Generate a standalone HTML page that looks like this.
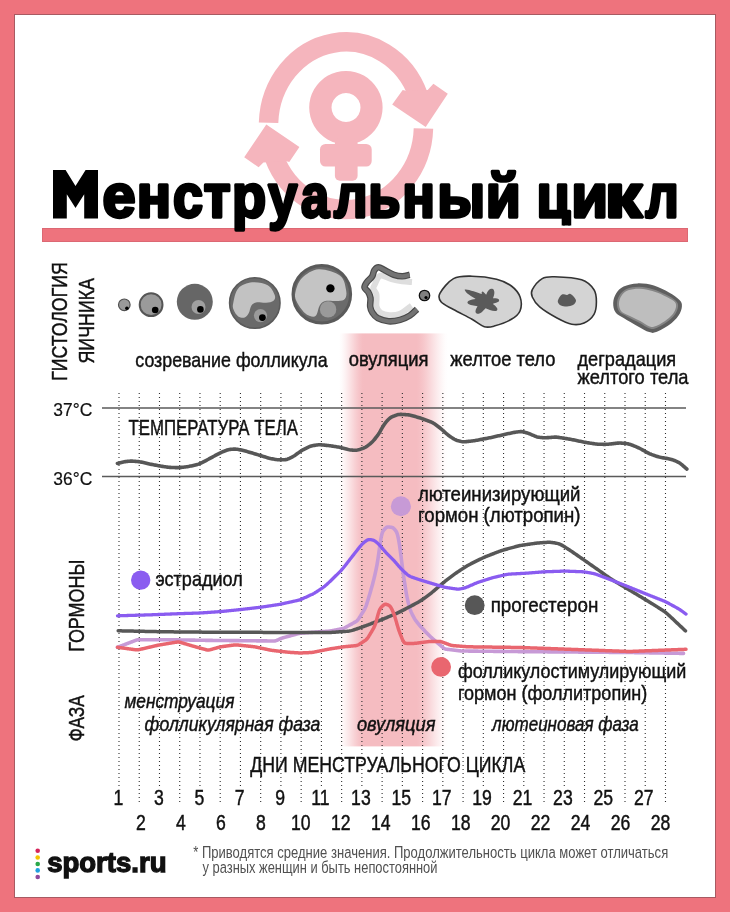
<!DOCTYPE html>
<html><head><meta charset="utf-8"><style>
html,body{margin:0;padding:0;background:#ee737d;}
svg{display:block;will-change:transform;font-family:"Liberation Sans",sans-serif;}
</style></head><body>
<svg width="730" height="912" viewBox="0 0 730 912">
<rect x="0" y="0" width="730" height="912" fill="#ee737d"/>
<rect x="14.5" y="14.5" width="701" height="883" fill="#fff" stroke="#a85a62" stroke-width="1"/>
<g fill="none" stroke="#f5b5bd" stroke-width="19.5">
<path d="M268.55,122.78 A77.5,83.8 0 0 1 418.35,95.67"/>
<path d="M423.46,128.48 A77.5,83.8 0 0 1 274.14,157.09"/>
</g>
<g fill="#f5b5bd">
<polygon points="392.2,104.4 402.7,90 407,91 427.7,90 433.4,83.8 447.8,93.8 425.7,126.9"/>
<polygon points="266.3,124.4 299.4,147.1 289.3,162 285.5,161 263.4,162.5 258.6,167.3 244.2,157.2"/>
<path fill-rule="evenodd" d="M345.9,70.9 a36.7,36.7 0 1 0 0.01,0 Z M346,93 a14.5,14.5 0 1 0 0.01,0 Z"/>
<rect x="334.9" y="138" width="22.7" height="42.8" rx="5"/>
<rect x="320" y="144" width="51.7" height="22.6" rx="5.5"/>
</g>
<rect x="42.5" y="228.5" width="645" height="13" fill="#ee737d" stroke="#dc6873" stroke-width="1"/>
<g font-family="Liberation Sans, sans-serif">
<defs><clipPath id="cc"><rect x="530" y="150" width="50" height="75.5"/></clipPath></defs>
<polygon fill="#000" points="53,170 65.6,170 75.5,186.1 85.6,170 98,170 98,218.5 84.2,218.5 84.2,194.2 75.5,208 66.8,194.2 66.8,218.5 53,218.5"/>
<text transform="translate(102.48,216.90) scale(0.9769,1)" font-size="61.0" font-weight="700" fill="#000" stroke="#000" stroke-width="3.30" stroke-linejoin="round" >е</text>
<text transform="translate(136.67,216.90) scale(0.9328,1)" font-size="61.0" font-weight="700" fill="#000" stroke="#000" stroke-width="3.30" stroke-linejoin="round" >н</text>
<text transform="translate(172.95,216.90) scale(0.8834,1)" font-size="61.0" font-weight="700" fill="#000" stroke="#000" stroke-width="3.30" stroke-linejoin="round" >с</text>
<text transform="translate(203.73,216.90) scale(0.8975,1)" font-size="61.0" font-weight="700" fill="#000" stroke="#000" stroke-width="3.30" stroke-linejoin="round" >т</text>
<text transform="translate(231.93,216.90) scale(0.9166,1)" font-size="61.0" font-weight="700" fill="#000" stroke="#000" stroke-width="3.30" stroke-linejoin="round" >р</text>
<text transform="translate(268.31,216.90) scale(0.8566,1)" font-size="61.0" font-weight="700" fill="#000" stroke="#000" stroke-width="3.30" stroke-linejoin="round" >у</text>
<text transform="translate(301.09,216.90) scale(0.8290,1)" font-size="61.0" font-weight="700" fill="#000" stroke="#000" stroke-width="3.30" stroke-linejoin="round" >а</text>
<text transform="translate(333.99,216.90) scale(0.8664,1)" font-size="61.0" font-weight="700" fill="#000" stroke="#000" stroke-width="3.30" stroke-linejoin="round" >л</text>
<text transform="translate(368.26,216.90) scale(0.8586,1)" font-size="61.0" font-weight="700" fill="#000" stroke="#000" stroke-width="3.30" stroke-linejoin="round" >ь</text>
<text transform="translate(402.18,216.90) scale(0.8885,1)" font-size="61.0" font-weight="700" fill="#000" stroke="#000" stroke-width="3.30" stroke-linejoin="round" >н</text>
<text transform="translate(437.20,216.90) scale(0.9195,1)" font-size="61.0" font-weight="700" fill="#000" stroke="#000" stroke-width="3.30" stroke-linejoin="round" >ы</text>
<text transform="translate(485.79,216.90) scale(0.9338,1)" font-size="61.0" font-weight="700" fill="#000" stroke="#000" stroke-width="3.30" stroke-linejoin="round" >й</text>
<g clip-path="url(#cc)"><text transform="translate(536.45,216.90) scale(0.9006,1)" font-size="61.0" font-weight="700" fill="#000" stroke="#000" stroke-width="3.30" stroke-linejoin="round" >ц</text></g>
<text transform="translate(571.26,216.90) scale(0.9833,1)" font-size="61.0" font-weight="700" fill="#000" stroke="#000" stroke-width="3.30" stroke-linejoin="round" >и</text>
<text transform="translate(604.65,216.90) scale(1.2217,1)" font-size="61.0" font-weight="700" fill="#000" stroke="#000" stroke-width="3.30" stroke-linejoin="round" >к</text>
<text transform="translate(645.38,216.90) scale(0.8583,1)" font-size="61.0" font-weight="700" fill="#000" stroke="#000" stroke-width="3.30" stroke-linejoin="round" >л</text>
</g>
<defs><linearGradient id="bg" x1="339" x2="448" y1="0" y2="0" gradientUnits="userSpaceOnUse"><stop offset="0.0000" stop-color="#f5bcc1" stop-opacity="0.000"/><stop offset="0.0238" stop-color="#f5bcc1" stop-opacity="0.056"/><stop offset="0.0476" stop-color="#f5bcc1" stop-opacity="0.152"/><stop offset="0.0714" stop-color="#f5bcc1" stop-opacity="0.269"/><stop offset="0.0952" stop-color="#f5bcc1" stop-opacity="0.401"/><stop offset="0.1190" stop-color="#f5bcc1" stop-opacity="0.539"/><stop offset="0.1429" stop-color="#f5bcc1" stop-opacity="0.674"/><stop offset="0.1667" stop-color="#f5bcc1" stop-opacity="0.799"/><stop offset="0.1905" stop-color="#f5bcc1" stop-opacity="0.905"/><stop offset="0.2143" stop-color="#f5bcc1" stop-opacity="0.985"/><stop offset="0.2381" stop-color="#f5bcc1" stop-opacity="1.000"/><stop offset="0.2619" stop-color="#f5bcc1" stop-opacity="1.000"/><stop offset="0.2857" stop-color="#f5bcc1" stop-opacity="1.000"/><stop offset="0.3095" stop-color="#f5bcc1" stop-opacity="1.000"/><stop offset="0.3333" stop-color="#f5bcc1" stop-opacity="1.000"/><stop offset="0.3571" stop-color="#f5bcc1" stop-opacity="1.000"/><stop offset="0.3810" stop-color="#f5bcc1" stop-opacity="1.000"/><stop offset="0.4048" stop-color="#f5bcc1" stop-opacity="1.000"/><stop offset="0.4286" stop-color="#f5bcc1" stop-opacity="1.000"/><stop offset="0.4524" stop-color="#f5bcc1" stop-opacity="1.000"/><stop offset="0.4762" stop-color="#f5bcc1" stop-opacity="1.000"/><stop offset="0.5000" stop-color="#f5bcc1" stop-opacity="1.000"/><stop offset="0.5238" stop-color="#f5bcc1" stop-opacity="1.000"/><stop offset="0.5476" stop-color="#f5bcc1" stop-opacity="1.000"/><stop offset="0.5714" stop-color="#f5bcc1" stop-opacity="1.000"/><stop offset="0.5952" stop-color="#f5bcc1" stop-opacity="1.000"/><stop offset="0.6190" stop-color="#f5bcc1" stop-opacity="1.000"/><stop offset="0.6429" stop-color="#f5bcc1" stop-opacity="1.000"/><stop offset="0.6667" stop-color="#f5bcc1" stop-opacity="1.000"/><stop offset="0.6905" stop-color="#f5bcc1" stop-opacity="1.000"/><stop offset="0.7143" stop-color="#f5bcc1" stop-opacity="1.000"/><stop offset="0.7381" stop-color="#f5bcc1" stop-opacity="0.950"/><stop offset="0.7619" stop-color="#f5bcc1" stop-opacity="0.878"/><stop offset="0.7857" stop-color="#f5bcc1" stop-opacity="0.792"/><stop offset="0.8095" stop-color="#f5bcc1" stop-opacity="0.694"/><stop offset="0.8333" stop-color="#f5bcc1" stop-opacity="0.590"/><stop offset="0.8571" stop-color="#f5bcc1" stop-opacity="0.482"/><stop offset="0.8810" stop-color="#f5bcc1" stop-opacity="0.375"/><stop offset="0.9048" stop-color="#f5bcc1" stop-opacity="0.272"/><stop offset="0.9286" stop-color="#f5bcc1" stop-opacity="0.178"/><stop offset="0.9524" stop-color="#f5bcc1" stop-opacity="0.096"/><stop offset="0.9762" stop-color="#f5bcc1" stop-opacity="0.031"/><stop offset="1.0000" stop-color="#f5bcc1" stop-opacity="0.000"/></linearGradient></defs>
<rect x="339" y="333.4" width="109" height="413" fill="url(#bg)"/>
<g>
<circle cx="124.3" cy="304.8" r="5.8" fill="#9a9a9a" stroke="#505050" stroke-width="1.2"/>
<circle cx="126.9" cy="308.2" r="1.8" fill="#000"/>
<circle cx="151.1" cy="304.7" r="11.4" fill="#9a9a9a" stroke="#555" stroke-width="2"/>
<circle cx="155.2" cy="310" r="3.3" fill="#000"/>
<circle cx="194.8" cy="301.8" r="18" fill="#666"/>
<circle cx="198.5" cy="307" r="7" fill="#a0a0a0"/>
<circle cx="200.4" cy="309.4" r="3.3" fill="#000"/>
<circle cx="254.8" cy="303" r="25.2" fill="#6a6a6a" stroke="#5a5a5a" stroke-width="1.6"/>
<path d="M233.20,303.20 C233.97,299.63 235.05,291.88 238.20,288.40 C241.35,284.92 247.18,282.83 252.10,282.30 C257.02,281.77 263.93,283.08 267.70,285.20 C271.47,287.32 273.73,292.40 274.70,295.00 C275.67,297.60 274.93,299.50 273.50,300.80 C272.07,302.10 268.98,302.53 266.10,302.80 C263.22,303.07 258.67,301.92 256.20,302.40 C253.73,302.88 252.53,303.92 251.30,305.70 C250.07,307.48 249.90,311.12 248.80,313.10 C247.70,315.08 246.47,317.05 244.70,317.60 C242.93,318.15 240.05,317.70 238.20,316.40 C236.35,315.10 234.43,312.00 233.60,309.80 C232.77,307.60 232.43,306.77 233.20,303.20Z" fill="#c2c2c2"/>
<circle cx="260.5" cy="315.6" r="6.6" fill="#9a9a9a"/>
<circle cx="262.4" cy="317.6" r="3.4" fill="#000"/>
<circle cx="321.8" cy="294.2" r="28.8" fill="#6b6b6b" stroke="#5a5a5a" stroke-width="3"/>
<path d="M295.50,291.70 C296.43,287.87 298.13,281.73 302.00,278.00 C305.87,274.27 312.33,269.67 318.70,269.30 C325.07,268.93 335.62,272.23 340.20,275.80 C344.78,279.37 345.43,286.82 346.20,290.70 C346.97,294.58 346.12,297.38 344.80,299.10 C343.48,300.82 341.55,300.68 338.30,301.00 C335.05,301.32 328.40,300.23 325.30,301.00 C322.20,301.77 321.10,303.43 319.70,305.60 C318.30,307.77 317.98,312.13 316.90,314.00 C315.82,315.87 315.22,316.95 313.20,316.80 C311.18,316.65 307.60,315.73 304.80,313.10 C302.00,310.47 297.95,304.57 296.40,301.00 C294.85,297.43 294.57,295.53 295.50,291.70Z" fill="#c4c4c4"/>
<circle cx="328.1" cy="309.4" r="8.2" fill="#9a9a9a"/>
<circle cx="330.4" cy="288.4" r="4.2" fill="#000"/>
<path d="M412.00,282.00 C410.37,281.87 405.60,281.70 402.20,281.20 C398.80,280.70 394.98,279.95 391.60,279.00 C388.22,278.05 384.15,275.75 381.90,275.50 C379.65,275.25 379.23,276.10 378.10,277.50 C376.97,278.90 375.90,282.08 375.10,283.90 C374.30,285.72 373.12,286.77 373.30,288.40 C373.48,290.03 375.65,292.07 376.20,293.70 C376.75,295.33 376.55,296.05 376.60,298.20 C376.65,300.35 375.85,304.17 376.50,306.60 C377.15,309.03 378.35,311.37 380.50,312.80 C382.65,314.23 386.13,315.05 389.40,315.20 C392.67,315.35 396.40,315.28 400.10,313.70 C403.80,312.12 409.68,307.03 411.60,305.70" fill="none" stroke="#dedede" stroke-width="6" stroke-linejoin="round" stroke-linecap="butt"/>
<path d="M409.70,274.80 C408.45,275.05 404.83,276.30 402.20,276.30 C399.57,276.30 396.78,275.80 393.90,274.80 C391.02,273.80 387.47,271.55 384.90,270.30 C382.33,269.05 380.27,267.30 378.50,267.30 C376.73,267.30 375.37,268.77 374.30,270.30 C373.23,271.83 373.35,274.50 372.10,276.50 C370.85,278.50 368.07,280.45 366.80,282.30 C365.53,284.15 364.25,285.97 364.50,287.60 C364.75,289.23 367.30,290.37 368.30,292.10 C369.30,293.83 370.18,295.58 370.50,298.00 C370.82,300.42 369.87,304.13 370.20,306.60 C370.53,309.07 371.23,310.87 372.50,312.80 C373.77,314.73 375.13,316.78 377.80,318.20 C380.47,319.62 384.78,321.02 388.50,321.30 C392.22,321.58 396.53,320.87 400.10,319.90 C403.67,318.93 407.08,317.28 409.90,315.50 C412.72,313.72 415.82,310.25 417.00,309.20" fill="none" stroke="#4a4a4a" stroke-width="6.6" stroke-linejoin="round"/>
<path d="M409.70,274.80 C408.45,275.05 404.83,276.30 402.20,276.30 C399.57,276.30 396.78,275.80 393.90,274.80 C391.02,273.80 387.47,271.55 384.90,270.30 C382.33,269.05 380.27,267.30 378.50,267.30 C376.73,267.30 375.37,268.77 374.30,270.30 C373.23,271.83 373.35,274.50 372.10,276.50 C370.85,278.50 368.07,280.45 366.80,282.30 C365.53,284.15 364.25,285.97 364.50,287.60 C364.75,289.23 367.30,290.37 368.30,292.10 C369.30,293.83 370.18,295.58 370.50,298.00 C370.82,300.42 369.87,304.13 370.20,306.60 C370.53,309.07 371.23,310.87 372.50,312.80 C373.77,314.73 375.13,316.78 377.80,318.20 C380.47,319.62 384.78,321.02 388.50,321.30 C392.22,321.58 396.53,320.87 400.10,319.90 C403.67,318.93 407.08,317.28 409.90,315.50 C412.72,313.72 415.82,310.25 417.00,309.20" fill="none" stroke="#737373" stroke-width="4.2" stroke-linejoin="round"/>
<circle cx="424.5" cy="295.5" r="5.2" fill="#808080" stroke="#111" stroke-width="1.3"/>
<circle cx="426" cy="297.5" r="1.6" fill="#000"/>
<path d="M439.90,293.40 C441.95,289.48 448.15,281.47 453.50,278.60 C458.85,275.73 464.82,276.10 472.00,276.20 C479.18,276.30 490.03,277.57 496.60,279.20 C503.17,280.83 507.48,283.02 511.40,286.00 C515.32,288.98 518.65,292.98 520.10,297.10 C521.55,301.22 521.55,307.00 520.10,310.70 C518.65,314.40 515.72,316.73 511.40,319.30 C507.08,321.87 498.72,324.87 494.20,326.10 C489.68,327.33 488.00,327.83 484.30,326.70 C480.60,325.57 477.13,322.17 472.00,319.30 C466.87,316.43 458.63,312.37 453.50,309.50 C448.37,306.63 443.47,304.78 441.20,302.10 C438.93,299.42 437.85,297.32 439.90,293.40Z" fill="#d4d4d4" stroke="#333" stroke-width="1.6"/>
<path d="M240,160 C260,150 340,185 380,195 C375,175 385,170 395,180 L415,200 C430,160 450,145 470,155 C490,170 480,210 470,230 C500,225 525,230 520,250 C515,265 480,270 470,275 C490,290 520,315 500,330 C480,340 430,320 410,310 C390,330 370,360 340,355 C320,345 330,320 345,295 C320,290 280,285 265,270 C255,250 290,240 330,235 C300,215 250,190 240,160 Z" fill="#5a5a5a" transform="translate(435,270) scale(0.12329)"/>
<path d="M532.30,289.70 C533.95,286.63 538.50,280.75 542.20,278.60 C545.90,276.45 547.93,276.60 554.50,276.80 C561.07,277.00 575.02,277.65 581.60,279.80 C588.18,281.95 591.53,286.00 594.00,289.70 C596.47,293.40 596.40,297.90 596.40,302.00 C596.40,306.10 596.05,310.82 594.00,314.30 C591.95,317.78 587.80,321.25 584.10,322.90 C580.40,324.55 576.32,325.02 571.80,324.20 C567.28,323.38 562.35,320.88 557.00,318.00 C551.65,315.12 543.82,310.40 539.70,306.90 C535.58,303.40 533.53,299.87 532.30,297.00 C531.07,294.13 530.65,292.77 532.30,289.70Z" fill="#d4d4d4" stroke="#333" stroke-width="1.6"/>
<path d="M558.50,299.00 C559.17,297.67 560.58,295.17 562.00,294.50 C563.42,293.83 565.67,295.12 567.00,295.00 C568.33,294.88 568.83,293.47 570.00,293.80 C571.17,294.13 573.00,295.80 574.00,297.00 C575.00,298.20 576.17,299.67 576.00,301.00 C575.83,302.33 574.50,304.08 573.00,305.00 C571.50,305.92 569.00,306.42 567.00,306.50 C565.00,306.58 562.50,306.17 561.00,305.50 C559.50,304.83 558.42,303.58 558.00,302.50 C557.58,301.42 557.83,300.33 558.50,299.00Z" fill="#5a5a5a"/>
<path d="M613.20,302.90 C613.30,299.78 614.37,296.32 616.10,293.60 C617.83,290.88 620.02,288.30 623.60,286.60 C627.18,284.90 632.55,283.58 637.60,283.40 C642.65,283.22 648.67,283.98 653.90,285.50 C659.13,287.02 664.73,290.08 669.00,292.50 C673.27,294.92 677.35,297.68 679.50,300.00 C681.65,302.32 682.08,303.77 681.90,306.40 C681.72,309.03 680.55,312.68 678.40,315.80 C676.25,318.92 672.70,322.38 669.00,325.10 C665.30,327.82 659.50,330.93 656.20,332.10 C652.90,333.27 652.30,333.08 649.20,332.10 C646.10,331.12 641.87,328.53 637.60,326.20 C633.33,323.87 627.28,320.42 623.60,318.10 C619.92,315.78 617.23,314.83 615.50,312.30 C613.77,309.77 613.10,306.02 613.20,302.90Z" fill="#5f5f5f"/>
<path d="M616.99,303.24 C617.05,300.47 618.04,297.36 619.64,294.98 C621.24,292.60 623.32,290.32 626.57,288.96 C629.83,287.61 634.81,286.82 639.19,286.85 C643.57,286.88 648.41,287.87 652.85,289.15 C657.28,290.44 661.98,292.63 665.80,294.55 C669.62,296.48 673.72,298.74 675.77,300.71 C677.82,302.68 678.26,304.03 678.10,306.36 C677.94,308.68 676.77,311.94 674.78,314.63 C672.80,317.33 669.48,320.24 666.19,322.54 C662.90,324.85 657.92,327.51 655.06,328.47 C652.20,329.43 651.65,329.25 649.03,328.30 C646.41,327.36 643.01,324.80 639.34,322.82 C635.67,320.84 630.36,318.29 627.00,316.41 C623.65,314.54 620.90,313.77 619.23,311.58 C617.56,309.38 616.92,306.00 616.99,303.24Z" fill="#858585"/>
<path d="M618.98,303.41 C619.03,300.83 619.98,297.90 621.51,295.70 C623.03,293.50 625.05,291.38 628.14,290.21 C631.23,289.04 636.00,288.52 640.02,288.67 C644.05,288.81 648.28,289.91 652.30,291.07 C656.31,292.24 660.54,293.97 664.12,295.64 C667.71,297.30 671.81,299.30 673.80,301.09 C675.80,302.87 676.25,304.18 676.10,306.33 C675.95,308.49 674.78,311.54 672.88,314.02 C670.98,316.50 667.78,319.11 664.71,321.20 C661.64,323.29 657.09,325.72 654.46,326.57 C651.83,327.42 651.30,327.23 648.93,326.31 C646.57,325.39 643.61,322.84 640.25,321.04 C636.90,319.25 631.97,317.16 628.80,315.52 C625.62,313.88 622.83,313.21 621.19,311.20 C619.56,309.18 618.93,306.00 618.98,303.41Z" fill="#bebebe"/>
</g>
<g stroke="#2e2e2e" stroke-width="1.1" stroke-dasharray="1.1 2.9">
<line x1="119.00" y1="393" x2="119.00" y2="786.5"/>
<line x1="139.24" y1="393" x2="139.24" y2="802.0"/>
<line x1="159.48" y1="393" x2="159.48" y2="786.5"/>
<line x1="179.72" y1="393" x2="179.72" y2="802.0"/>
<line x1="199.96" y1="393" x2="199.96" y2="786.5"/>
<line x1="220.20" y1="393" x2="220.20" y2="802.0"/>
<line x1="240.44" y1="393" x2="240.44" y2="786.5"/>
<line x1="260.68" y1="393" x2="260.68" y2="802.0"/>
<line x1="280.92" y1="393" x2="280.92" y2="786.5"/>
<line x1="301.16" y1="393" x2="301.16" y2="802.0"/>
<line x1="321.40" y1="393" x2="321.40" y2="786.5"/>
<line x1="341.64" y1="393" x2="341.64" y2="802.0"/>
<line x1="361.88" y1="393" x2="361.88" y2="786.5"/>
<line x1="382.12" y1="393" x2="382.12" y2="802.0"/>
<line x1="402.36" y1="393" x2="402.36" y2="786.5"/>
<line x1="422.60" y1="393" x2="422.60" y2="802.0"/>
<line x1="442.84" y1="393" x2="442.84" y2="786.5"/>
<line x1="463.08" y1="393" x2="463.08" y2="802.0"/>
<line x1="483.32" y1="393" x2="483.32" y2="786.5"/>
<line x1="503.56" y1="393" x2="503.56" y2="802.0"/>
<line x1="523.80" y1="393" x2="523.80" y2="786.5"/>
<line x1="544.04" y1="393" x2="544.04" y2="802.0"/>
<line x1="564.28" y1="393" x2="564.28" y2="786.5"/>
<line x1="584.52" y1="393" x2="584.52" y2="802.0"/>
<line x1="604.76" y1="393" x2="604.76" y2="786.5"/>
<line x1="625.00" y1="393" x2="625.00" y2="802.0"/>
<line x1="645.24" y1="393" x2="645.24" y2="786.5"/>
<line x1="665.48" y1="393" x2="665.48" y2="802.0"/>
</g>
<line x1="102" y1="408" x2="686" y2="408" stroke="#5a5a5a" stroke-width="1.5"/>
<line x1="102" y1="476.5" x2="686" y2="476.5" stroke="#5a5a5a" stroke-width="1.5"/>
<g fill="none" stroke-linecap="round" stroke-linejoin="round">
<path d="M117.4,463.40 L118.4,463.16 L119.4,462.91 L120.4,462.67 L121.4,462.43 L122.4,462.20 L123.4,461.98 L124.4,461.78 L125.4,461.63 L126.4,461.50 L127.4,461.40 L128.4,461.31 L129.4,461.24 L130.4,461.17 L131.4,461.14 L132.4,461.14 L133.4,461.18 L134.4,461.25 L135.4,461.34 L136.4,461.44 L137.4,461.55 L138.4,461.66 L139.4,461.78 L140.4,461.93 L141.4,462.11 L142.4,462.31 L143.4,462.54 L144.4,462.77 L145.4,463.01 L146.4,463.25 L147.4,463.49 L148.4,463.72 L149.4,463.94 L150.4,464.16 L151.4,464.36 L152.4,464.56 L153.4,464.76 L154.4,464.95 L155.4,465.14 L156.4,465.34 L157.4,465.53 L158.4,465.71 L159.4,465.89 L160.4,466.05 L161.4,466.21 L162.4,466.37 L163.4,466.52 L164.4,466.67 L165.4,466.82 L166.4,466.97 L167.4,467.11 L168.4,467.23 L169.4,467.33 L170.4,467.40 L171.4,467.46 L172.4,467.49 L173.4,467.53 L174.4,467.56 L175.4,467.59 L176.4,467.61 L177.4,467.62 L178.4,467.61 L179.4,467.57 L180.4,467.50 L181.4,467.40 L182.4,467.28 L183.4,467.17 L184.4,467.04 L185.4,466.92 L186.4,466.79 L187.4,466.66 L188.4,466.50 L189.4,466.32 L190.4,466.11 L191.4,465.88 L192.4,465.64 L193.4,465.40 L194.4,465.15 L195.4,464.90 L196.4,464.65 L197.4,464.39 L198.4,464.11 L199.4,463.78 L200.4,463.39 L201.4,462.93 L202.4,462.44 L203.4,461.91 L204.4,461.38 L205.4,460.84 L206.4,460.30 L207.4,459.77 L208.4,459.23 L209.4,458.69 L210.4,458.15 L211.4,457.61 L212.4,457.06 L213.4,456.52 L214.4,455.97 L215.4,455.43 L216.4,454.88 L217.4,454.34 L218.4,453.81 L219.4,453.29 L220.4,452.80 L221.4,452.34 L222.4,451.91 L223.4,451.50 L224.4,451.09 L225.4,450.70 L226.4,450.32 L227.4,449.98 L228.4,449.70 L229.4,449.49 L230.4,449.35 L231.4,449.27 L232.4,449.20 L233.4,449.16 L234.4,449.13 L235.4,449.15 L236.4,449.21 L237.4,449.33 L238.4,449.49 L239.4,449.68 L240.4,449.88 L241.4,450.08 L242.4,450.31 L243.4,450.55 L244.4,450.80 L245.4,451.07 L246.4,451.34 L247.4,451.62 L248.4,451.90 L249.4,452.18 L250.4,452.47 L251.4,452.77 L252.4,453.07 L253.4,453.37 L254.4,453.68 L255.4,453.98 L256.4,454.29 L257.4,454.60 L258.4,454.90 L259.4,455.21 L260.4,455.52 L261.4,455.83 L262.4,456.15 L263.4,456.46 L264.4,456.77 L265.4,457.08 L266.4,457.39 L267.4,457.70 L268.4,457.99 L269.4,458.25 L270.4,458.49 L271.4,458.69 L272.4,458.88 L273.4,459.06 L274.4,459.23 L275.4,459.40 L276.4,459.56 L277.4,459.68 L278.4,459.77 L279.4,459.82 L280.4,459.83 L281.4,459.82 L282.4,459.80 L283.4,459.77 L284.4,459.72 L285.4,459.63 L286.4,459.45 L287.4,459.18 L288.4,458.81 L289.4,458.37 L290.4,457.89 L291.4,457.39 L292.4,456.86 L293.4,456.30 L294.4,455.69 L295.4,455.02 L296.4,454.31 L297.4,453.57 L298.4,452.83 L299.4,452.09 L300.4,451.38 L301.4,450.71 L302.4,450.11 L303.4,449.55 L304.4,449.03 L305.4,448.53 L306.4,448.03 L307.4,447.55 L308.4,447.08 L309.4,446.66 L310.4,446.30 L311.4,446.00 L312.4,445.77 L313.4,445.57 L314.4,445.39 L315.4,445.22 L316.4,445.05 L317.4,444.92 L318.4,444.82 L319.4,444.79 L320.4,444.81 L321.4,444.87 L322.4,444.95 L323.4,445.05 L324.4,445.15 L325.4,445.25 L326.4,445.35 L327.4,445.45 L328.4,445.56 L329.4,445.68 L330.4,445.81 L331.4,445.96 L332.4,446.11 L333.4,446.27 L334.4,446.43 L335.4,446.59 L336.4,446.75 L337.4,446.92 L338.4,447.09 L339.4,447.26 L340.4,447.46 L341.4,447.69 L342.4,447.94 L343.4,448.21 L344.4,448.49 L345.4,448.78 L346.4,449.06 L347.4,449.34 L348.4,449.59 L349.4,449.79 L350.4,449.95 L351.4,450.06 L352.4,450.14 L353.4,450.20 L354.4,450.24 L355.4,450.24 L356.4,450.19 L357.4,450.06 L358.4,449.84 L359.4,449.56 L360.4,449.25 L361.4,448.91 L362.4,448.57 L363.4,448.19 L364.4,447.77 L365.4,447.26 L366.4,446.65 L367.4,445.94 L368.4,445.17 L369.4,444.36 L370.4,443.51 L371.4,442.63 L372.4,441.68 L373.4,440.63 L374.4,439.49 L375.4,438.26 L376.4,436.98 L377.4,435.63 L378.4,434.20 L379.4,432.64 L380.4,430.97 L381.4,429.21 L382.4,427.44 L383.4,425.76 L384.4,424.23 L385.4,422.87 L386.4,421.65 L387.4,420.53 L388.4,419.49 L389.4,418.55 L390.4,417.76 L391.4,417.12 L392.4,416.62 L393.4,416.21 L394.4,415.83 L395.4,415.47 L396.4,415.13 L397.4,414.83 L398.4,414.59 L399.4,414.44 L400.4,414.38 L401.4,414.39 L402.4,414.43 L403.4,414.49 L404.4,414.55 L405.4,414.61 L406.4,414.68 L407.4,414.76 L408.4,414.85 L409.4,414.99 L410.4,415.17 L411.4,415.40 L412.4,415.67 L413.4,415.96 L414.4,416.25 L415.4,416.55 L416.4,416.86 L417.4,417.16 L418.4,417.46 L419.4,417.76 L420.4,418.07 L421.4,418.39 L422.4,418.73 L423.4,419.09 L424.4,419.46 L425.4,419.84 L426.4,420.23 L427.4,420.61 L428.4,421.00 L429.4,421.39 L430.4,421.79 L431.4,422.21 L432.4,422.68 L433.4,423.21 L434.4,423.82 L435.4,424.50 L436.4,425.22 L437.4,425.95 L438.4,426.71 L439.4,427.48 L440.4,428.28 L441.4,429.12 L442.4,429.99 L443.4,430.89 L444.4,431.80 L445.4,432.71 L446.4,433.60 L447.4,434.45 L448.4,435.25 L449.4,436.00 L450.4,436.70 L451.4,437.38 L452.4,438.03 L453.4,438.67 L454.4,439.25 L455.4,439.76 L456.4,440.19 L457.4,440.53 L458.4,440.83 L459.4,441.09 L460.4,441.33 L461.4,441.54 L462.4,441.69 L463.4,441.77 L464.4,441.76 L465.4,441.71 L466.4,441.62 L467.4,441.51 L468.4,441.41 L469.4,441.30 L470.4,441.19 L471.4,441.08 L472.4,440.96 L473.4,440.83 L474.4,440.68 L475.4,440.51 L476.4,440.33 L477.4,440.15 L478.4,439.96 L479.4,439.77 L480.4,439.58 L481.4,439.38 L482.4,439.19 L483.4,439.00 L484.4,438.81 L485.4,438.62 L486.4,438.43 L487.4,438.24 L488.4,438.05 L489.4,437.85 L490.4,437.66 L491.4,437.46 L492.4,437.25 L493.4,437.03 L494.4,436.80 L495.4,436.57 L496.4,436.34 L497.4,436.11 L498.4,435.87 L499.4,435.64 L500.4,435.41 L501.4,435.17 L502.4,434.94 L503.4,434.71 L504.4,434.48 L505.4,434.26 L506.4,434.04 L507.4,433.82 L508.4,433.61 L509.4,433.39 L510.4,433.18 L511.4,432.97 L512.4,432.76 L513.4,432.56 L514.4,432.37 L515.4,432.21 L516.4,432.05 L517.4,431.91 L518.4,431.78 L519.4,431.67 L520.4,431.59 L521.4,431.59 L522.4,431.68 L523.4,431.86 L524.4,432.11 L525.4,432.40 L526.4,432.71 L527.4,433.03 L528.4,433.37 L529.4,433.75 L530.4,434.15 L531.4,434.58 L532.4,435.03 L533.4,435.48 L534.4,435.91 L535.4,436.32 L536.4,436.67 L537.4,436.94 L538.4,437.15 L539.4,437.31 L540.4,437.44 L541.4,437.56 L542.4,437.66 L543.4,437.73 L544.4,437.77 L545.4,437.76 L546.4,437.72 L547.4,437.65 L548.4,437.58 L549.4,437.51 L550.4,437.44 L551.4,437.37 L552.4,437.29 L553.4,437.23 L554.4,437.17 L555.4,437.15 L556.4,437.17 L557.4,437.24 L558.4,437.36 L559.4,437.50 L560.4,437.66 L561.4,437.82 L562.4,437.98 L563.4,438.14 L564.4,438.31 L565.4,438.47 L566.4,438.64 L567.4,438.80 L568.4,438.96 L569.4,439.13 L570.4,439.30 L571.4,439.47 L572.4,439.66 L573.4,439.86 L574.4,440.06 L575.4,440.28 L576.4,440.49 L577.4,440.71 L578.4,440.93 L579.4,441.15 L580.4,441.36 L581.4,441.58 L582.4,441.79 L583.4,442.00 L584.4,442.20 L585.4,442.38 L586.4,442.55 L587.4,442.71 L588.4,442.87 L589.4,443.03 L590.4,443.18 L591.4,443.33 L592.4,443.49 L593.4,443.64 L594.4,443.79 L595.4,443.93 L596.4,444.05 L597.4,444.14 L598.4,444.20 L599.4,444.24 L600.4,444.27 L601.4,444.29 L602.4,444.31 L603.4,444.33 L604.4,444.34 L605.4,444.34 L606.4,444.32 L607.4,444.26 L608.4,444.18 L609.4,444.08 L610.4,443.96 L611.4,443.84 L612.4,443.72 L613.4,443.60 L614.4,443.48 L615.4,443.36 L616.4,443.25 L617.4,443.15 L618.4,443.08 L619.4,443.05 L620.4,443.07 L621.4,443.12 L622.4,443.20 L623.4,443.29 L624.4,443.38 L625.4,443.47 L626.4,443.58 L627.4,443.71 L628.4,443.89 L629.4,444.14 L630.4,444.45 L631.4,444.82 L632.4,445.21 L633.4,445.62 L634.4,446.04 L635.4,446.45 L636.4,446.87 L637.4,447.31 L638.4,447.76 L639.4,448.24 L640.4,448.75 L641.4,449.28 L642.4,449.83 L643.4,450.37 L644.4,450.92 L645.4,451.47 L646.4,452.02 L647.4,452.56 L648.4,453.08 L649.4,453.58 L650.4,454.03 L651.4,454.44 L652.4,454.82 L653.4,455.18 L654.4,455.53 L655.4,455.88 L656.4,456.22 L657.4,456.54 L658.4,456.84 L659.4,457.10 L660.4,457.32 L661.4,457.51 L662.4,457.69 L663.4,457.87 L664.4,458.04 L665.4,458.21 L666.4,458.38 L667.4,458.55 L668.4,458.73 L669.4,458.93 L670.4,459.16 L671.4,459.43 L672.4,459.76 L673.4,460.12 L674.4,460.52 L675.4,460.93 L676.4,461.34 L677.4,461.79 L678.4,462.29 L679.4,462.87 L680.4,463.56 L681.4,464.34 L682.4,465.17 L683.4,466.04 L684.4,466.91 L685.4,467.79 L686.4,468.67 L686.9,469.11" stroke="#575757" stroke-width="3.6"/>
<path d="M117.5,647.30 L118.0,647.11 L118.5,646.92 L119.0,646.73 L119.5,646.54 L120.0,646.35 L120.5,646.15 L121.0,645.96 L121.5,645.77 L122.0,645.58 L122.5,645.39 L123.0,645.20 L123.5,645.01 L124.0,644.82 L124.5,644.63 L125.0,644.44 L125.5,644.24 L126.0,644.05 L126.5,643.86 L127.0,643.67 L127.5,643.48 L128.0,643.29 L128.5,643.10 L129.0,642.91 L129.5,642.72 L130.0,642.53 L130.5,642.34 L131.0,642.14 L131.5,641.95 L132.0,641.76 L132.5,641.57 L133.0,641.38 L133.5,641.19 L134.0,641.00 L134.5,640.81 L135.0,640.62 L135.5,640.43 L136.0,640.25 L136.5,640.08 L137.0,639.94 L137.5,639.83 L138.0,639.76 L138.5,639.73 L139.0,639.71 L139.5,639.70 L140.0,639.70 L140.5,639.70 L141.0,639.70 L141.5,639.70 L142.0,639.70 L142.5,639.70 L143.0,639.70 L143.5,639.70 L144.0,639.70 L144.5,639.70 L145.0,639.70 L145.5,639.70 L146.0,639.70 L146.5,639.70 L147.0,639.70 L147.5,639.70 L148.0,639.70 L148.5,639.70 L149.0,639.70 L149.5,639.70 L150.0,639.70 L150.5,639.70 L151.0,639.70 L151.5,639.70 L152.0,639.70 L152.5,639.70 L153.0,639.70 L153.5,639.70 L154.0,639.70 L154.5,639.70 L155.0,639.70 L155.5,639.70 L156.0,639.70 L156.5,639.70 L157.0,639.70 L157.5,639.70 L158.0,639.70 L158.5,639.70 L159.0,639.70 L159.5,639.70 L160.0,639.70 L160.5,639.70 L161.0,639.70 L161.5,639.70 L162.0,639.70 L162.5,639.70 L163.0,639.70 L163.5,639.70 L164.0,639.70 L164.5,639.70 L165.0,639.71 L165.5,639.71 L166.0,639.72 L166.5,639.73 L167.0,639.73 L167.5,639.74 L168.0,639.75 L168.5,639.76 L169.0,639.77 L169.5,639.77 L170.0,639.78 L170.5,639.79 L171.0,639.80 L171.5,639.80 L172.0,639.81 L172.5,639.82 L173.0,639.83 L173.5,639.83 L174.0,639.84 L174.5,639.85 L175.0,639.86 L175.5,639.87 L176.0,639.87 L176.5,639.88 L177.0,639.89 L177.5,639.90 L178.0,639.90 L178.5,639.91 L179.0,639.92 L179.5,639.93 L180.0,639.94 L180.5,639.94 L181.0,639.95 L181.5,639.96 L182.0,639.97 L182.5,639.97 L183.0,639.98 L183.5,639.99 L184.0,640.00 L184.5,640.01 L185.0,640.01 L185.5,640.02 L186.0,640.03 L186.5,640.04 L187.0,640.04 L187.5,640.05 L188.0,640.06 L188.5,640.07 L189.0,640.07 L189.5,640.08 L190.0,640.09 L190.5,640.10 L191.0,640.11 L191.5,640.11 L192.0,640.12 L192.5,640.13 L193.0,640.14 L193.5,640.14 L194.0,640.15 L194.5,640.16 L195.0,640.17 L195.5,640.18 L196.0,640.18 L196.5,640.19 L197.0,640.20 L197.5,640.21 L198.0,640.21 L198.5,640.22 L199.0,640.23 L199.5,640.24 L200.0,640.25 L200.5,640.25 L201.0,640.26 L201.5,640.27 L202.0,640.28 L202.5,640.28 L203.0,640.29 L203.5,640.30 L204.0,640.31 L204.5,640.31 L205.0,640.32 L205.5,640.33 L206.0,640.34 L206.5,640.35 L207.0,640.35 L207.5,640.36 L208.0,640.37 L208.5,640.38 L209.0,640.38 L209.5,640.39 L210.0,640.40 L210.5,640.40 L211.0,640.41 L211.5,640.41 L212.0,640.42 L212.5,640.42 L213.0,640.43 L213.5,640.43 L214.0,640.44 L214.5,640.44 L215.0,640.45 L215.5,640.45 L216.0,640.46 L216.5,640.46 L217.0,640.46 L217.5,640.47 L218.0,640.47 L218.5,640.48 L219.0,640.48 L219.5,640.49 L220.0,640.49 L220.5,640.50 L221.0,640.50 L221.5,640.51 L222.0,640.51 L222.5,640.51 L223.0,640.52 L223.5,640.52 L224.0,640.53 L224.5,640.53 L225.0,640.54 L225.5,640.54 L226.0,640.55 L226.5,640.55 L227.0,640.56 L227.5,640.56 L228.0,640.57 L228.5,640.57 L229.0,640.57 L229.5,640.58 L230.0,640.58 L230.5,640.59 L231.0,640.59 L231.5,640.60 L232.0,640.60 L232.5,640.61 L233.0,640.61 L233.5,640.62 L234.0,640.62 L234.5,640.63 L235.0,640.63 L235.5,640.63 L236.0,640.64 L236.5,640.64 L237.0,640.65 L237.5,640.65 L238.0,640.66 L238.5,640.66 L239.0,640.67 L239.5,640.67 L240.0,640.68 L240.5,640.68 L241.0,640.68 L241.5,640.69 L242.0,640.69 L242.5,640.70 L243.0,640.70 L243.5,640.71 L244.0,640.71 L244.5,640.72 L245.0,640.72 L245.5,640.73 L246.0,640.73 L246.5,640.74 L247.0,640.74 L247.5,640.74 L248.0,640.75 L248.5,640.75 L249.0,640.76 L249.5,640.76 L250.0,640.77 L250.5,640.77 L251.0,640.78 L251.5,640.78 L252.0,640.79 L252.5,640.79 L253.0,640.80 L253.5,640.80 L254.0,640.80 L254.5,640.81 L255.0,640.81 L255.5,640.82 L256.0,640.82 L256.5,640.83 L257.0,640.83 L257.5,640.84 L258.0,640.84 L258.5,640.85 L259.0,640.85 L259.5,640.85 L260.0,640.86 L260.5,640.86 L261.0,640.87 L261.5,640.87 L262.0,640.88 L262.5,640.88 L263.0,640.89 L263.5,640.89 L264.0,640.90 L264.5,640.90 L265.0,640.91 L265.5,640.91 L266.0,640.91 L266.5,640.92 L267.0,640.92 L267.5,640.93 L268.0,640.93 L268.5,640.94 L269.0,640.94 L269.5,640.95 L270.0,640.95 L270.5,640.96 L271.0,640.96 L271.5,640.97 L272.0,640.97 L272.5,640.97 L273.0,640.98 L273.5,640.98 L274.0,640.97 L274.5,640.94 L275.0,640.88 L275.5,640.78 L276.0,640.63 L276.5,640.45 L277.0,640.25 L277.5,640.04 L278.0,639.83 L278.5,639.61 L279.0,639.39 L279.5,639.17 L280.0,638.96 L280.5,638.74 L281.0,638.53 L281.5,638.33 L282.0,638.14 L282.5,637.96 L283.0,637.80 L283.5,637.66 L284.0,637.52 L284.5,637.38 L285.0,637.25 L285.5,637.11 L286.0,636.98 L286.5,636.84 L287.0,636.71 L287.5,636.57 L288.0,636.44 L288.5,636.30 L289.0,636.17 L289.5,636.03 L290.0,635.90 L290.5,635.76 L291.0,635.63 L291.5,635.49 L292.0,635.36 L292.5,635.22 L293.0,635.09 L293.5,634.95 L294.0,634.82 L294.5,634.68 L295.0,634.55 L295.5,634.41 L296.0,634.28 L296.5,634.14 L297.0,634.01 L297.5,633.87 L298.0,633.74 L298.5,633.61 L299.0,633.49 L299.5,633.37 L300.0,633.28 L300.5,633.20 L301.0,633.15 L301.5,633.10 L302.0,633.06 L302.5,633.03 L303.0,632.99 L303.5,632.96 L304.0,632.92 L304.5,632.89 L305.0,632.85 L305.5,632.82 L306.0,632.78 L306.5,632.75 L307.0,632.71 L307.5,632.68 L308.0,632.64 L308.5,632.61 L309.0,632.57 L309.5,632.54 L310.0,632.50 L310.5,632.47 L311.0,632.43 L311.5,632.40 L312.0,632.36 L312.5,632.33 L313.0,632.29 L313.5,632.26 L314.0,632.22 L314.5,632.19 L315.0,632.15 L315.5,632.12 L316.0,632.08 L316.5,632.05 L317.0,632.01 L317.5,631.98 L318.0,631.94 L318.5,631.91 L319.0,631.87 L319.5,631.84 L320.0,631.80 L320.5,631.77 L321.0,631.73 L321.5,631.70 L322.0,631.66 L322.5,631.63 L323.0,631.59 L323.5,631.56 L324.0,631.52 L324.5,631.49 L325.0,631.45 L325.5,631.42 L326.0,631.38 L326.5,631.34 L327.0,631.31 L327.5,631.27 L328.0,631.24 L328.5,631.20 L329.0,631.16 L329.5,631.11 L330.0,631.05 L330.5,630.98 L331.0,630.89 L331.5,630.80 L332.0,630.70 L332.5,630.61 L333.0,630.51 L333.5,630.41 L334.0,630.31 L334.5,630.21 L335.0,630.11 L335.5,630.02 L336.0,629.92 L336.5,629.82 L337.0,629.72 L337.5,629.62 L338.0,629.52 L338.5,629.42 L339.0,629.33 L339.5,629.23 L340.0,629.13 L340.5,629.03 L341.0,628.93 L341.5,628.83 L342.0,628.73 L342.5,628.62 L343.0,628.49 L343.5,628.33 L344.0,628.14 L344.5,627.91 L345.0,627.66 L345.5,627.40 L346.0,627.12 L346.5,626.85 L347.0,626.57 L347.5,626.29 L348.0,626.01 L348.5,625.74 L349.0,625.46 L349.5,625.18 L350.0,624.91 L350.5,624.63 L351.0,624.35 L351.5,624.07 L352.0,623.80 L352.5,623.52 L353.0,623.24 L353.5,622.96 L354.0,622.69 L354.5,622.41 L355.0,622.13 L355.5,621.84 L356.0,621.54 L356.5,621.20 L357.0,620.78 L357.5,620.28 L358.0,619.67 L358.5,618.98 L359.0,618.24 L359.5,617.46 L360.0,616.68 L360.5,615.89 L361.0,615.09 L361.5,614.30 L362.0,613.51 L362.5,612.71 L363.0,611.92 L363.5,611.12 L364.0,610.30 L364.5,609.43 L365.0,608.46 L365.5,607.36 L366.0,606.09 L366.5,604.67 L367.0,603.14 L367.5,601.54 L368.0,599.91 L368.5,598.26 L369.0,596.60 L369.5,594.91 L370.0,593.21 L370.5,591.48 L371.0,589.74 L371.5,587.99 L372.0,586.22 L372.5,584.42 L373.0,582.56 L373.5,580.62 L374.0,578.59 L374.5,576.47 L375.0,574.29 L375.5,572.07 L376.0,569.78 L376.5,567.38 L377.0,564.79 L377.5,561.91 L378.0,558.72 L378.5,555.27 L379.0,551.67 L379.5,548.05 L380.0,544.53 L380.5,541.23 L381.0,538.25 L381.5,535.73 L382.0,533.74 L382.5,532.29 L383.0,531.26 L383.5,530.49 L384.0,529.86 L384.5,529.28 L385.0,528.73 L385.5,528.22 L386.0,527.76 L386.5,527.40 L387.0,527.15 L387.5,527.02 L388.0,526.98 L388.5,526.99 L389.0,527.03 L389.5,527.07 L390.0,527.12 L390.5,527.17 L391.0,527.23 L391.5,527.30 L392.0,527.42 L392.5,527.60 L393.0,527.88 L393.5,528.26 L394.0,528.73 L394.5,529.25 L395.0,529.82 L395.5,530.43 L396.0,531.15 L396.5,532.05 L397.0,533.25 L397.5,534.83 L398.0,536.80 L398.5,539.14 L399.0,541.84 L399.5,544.91 L400.0,548.37 L400.5,552.16 L401.0,556.14 L401.5,560.16 L402.0,564.11 L402.5,567.95 L403.0,571.66 L403.5,575.27 L404.0,578.75 L404.5,582.11 L405.0,585.35 L405.5,588.49 L406.0,591.51 L406.5,594.36 L407.0,596.99 L407.5,599.36 L408.0,601.50 L408.5,603.48 L409.0,605.36 L409.5,607.13 L410.0,608.79 L410.5,610.29 L411.0,611.62 L411.5,612.79 L412.0,613.85 L412.5,614.85 L413.0,615.82 L413.5,616.77 L414.0,617.69 L414.5,618.58 L415.0,619.40 L415.5,620.15 L416.0,620.86 L416.5,621.52 L417.0,622.17 L417.5,622.81 L418.0,623.45 L418.5,624.08 L419.0,624.71 L419.5,625.31 L420.0,625.90 L420.5,626.47 L421.0,627.01 L421.5,627.53 L422.0,628.05 L422.5,628.57 L423.0,629.08 L423.5,629.60 L424.0,630.11 L424.5,630.62 L425.0,631.14 L425.5,631.65 L426.0,632.16 L426.5,632.68 L427.0,633.19 L427.5,633.70 L428.0,634.22 L428.5,634.73 L429.0,635.24 L429.5,635.75 L430.0,636.26 L430.5,636.75 L431.0,637.23 L431.5,637.69 L432.0,638.14 L432.5,638.58 L433.0,639.01 L433.5,639.43 L434.0,639.86 L434.5,640.29 L435.0,640.72 L435.5,641.14 L436.0,641.57 L436.5,642.00 L437.0,642.42 L437.5,642.85 L438.0,643.28 L438.5,643.71 L439.0,644.13 L439.5,644.56 L440.0,644.99 L440.5,645.41 L441.0,645.84 L441.5,646.27 L442.0,646.69 L442.5,647.12 L443.0,647.53 L443.5,647.93 L444.0,648.30 L444.5,648.60 L445.0,648.84 L445.5,649.01 L446.0,649.13 L446.5,649.21 L447.0,649.28 L447.5,649.34 L448.0,649.40 L448.5,649.46 L449.0,649.52 L449.5,649.59 L450.0,649.65 L450.5,649.71 L451.0,649.77 L451.5,649.83 L452.0,649.89 L452.5,649.95 L453.0,650.01 L453.5,650.07 L454.0,650.13 L454.5,650.20 L455.0,650.26 L455.5,650.32 L456.0,650.38 L456.5,650.44 L457.0,650.50 L457.5,650.56 L458.0,650.62 L458.5,650.68 L459.0,650.74 L459.5,650.80 L460.0,650.86 L460.5,650.91 L461.0,650.95 L461.5,650.98 L462.0,651.00 L462.5,651.01 L463.0,651.02 L463.5,651.02 L464.0,651.03 L464.5,651.03 L465.0,651.04 L465.5,651.04 L466.0,651.05 L466.5,651.06 L467.0,651.06 L467.5,651.07 L468.0,651.07 L468.5,651.08 L469.0,651.08 L469.5,651.09 L470.0,651.09 L470.5,651.10 L471.0,651.10 L471.5,651.11 L472.0,651.11 L472.5,651.12 L473.0,651.12 L473.5,651.13 L474.0,651.13 L474.5,651.14 L475.0,651.14 L475.5,651.15 L476.0,651.15 L476.5,651.16 L477.0,651.16 L477.5,651.17 L478.0,651.17 L478.5,651.18 L479.0,651.18 L479.5,651.19 L480.0,651.19 L480.5,651.20 L481.0,651.20 L481.5,651.21 L482.0,651.21 L482.5,651.22 L483.0,651.22 L483.5,651.23 L484.0,651.23 L484.5,651.24 L485.0,651.24 L485.5,651.25 L486.0,651.25 L486.5,651.26 L487.0,651.26 L487.5,651.27 L488.0,651.27 L488.5,651.28 L489.0,651.28 L489.5,651.29 L490.0,651.29 L490.5,651.30 L491.0,651.30 L491.5,651.31 L492.0,651.31 L492.5,651.32 L493.0,651.32 L493.5,651.33 L494.0,651.34 L494.5,651.34 L495.0,651.35 L495.5,651.35 L496.0,651.36 L496.5,651.36 L497.0,651.37 L497.5,651.37 L498.0,651.38 L498.5,651.38 L499.0,651.39 L499.5,651.39 L500.0,651.40 L500.5,651.40 L501.0,651.41 L501.5,651.41 L502.0,651.42 L502.5,651.42 L503.0,651.43 L503.5,651.43 L504.0,651.44 L504.5,651.44 L505.0,651.45 L505.5,651.45 L506.0,651.46 L506.5,651.46 L507.0,651.47 L507.5,651.47 L508.0,651.48 L508.5,651.48 L509.0,651.49 L509.5,651.49 L510.0,651.50 L510.5,651.50 L511.0,651.51 L511.5,651.51 L512.0,651.52 L512.5,651.52 L513.0,651.53 L513.5,651.53 L514.0,651.54 L514.5,651.54 L515.0,651.55 L515.5,651.55 L516.0,651.56 L516.5,651.56 L517.0,651.57 L517.5,651.57 L518.0,651.58 L518.5,651.58 L519.0,651.59 L519.5,651.59 L520.0,651.60 L520.5,651.60 L521.0,651.61 L521.5,651.61 L522.0,651.62 L522.5,651.62 L523.0,651.62 L523.5,651.63 L524.0,651.63 L524.5,651.64 L525.0,651.64 L525.5,651.65 L526.0,651.65 L526.5,651.65 L527.0,651.66 L527.5,651.66 L528.0,651.67 L528.5,651.67 L529.0,651.67 L529.5,651.68 L530.0,651.68 L530.5,651.69 L531.0,651.69 L531.5,651.69 L532.0,651.70 L532.5,651.70 L533.0,651.71 L533.5,651.71 L534.0,651.71 L534.5,651.72 L535.0,651.72 L535.5,651.73 L536.0,651.73 L536.5,651.74 L537.0,651.74 L537.5,651.74 L538.0,651.75 L538.5,651.75 L539.0,651.76 L539.5,651.76 L540.0,651.76 L540.5,651.77 L541.0,651.77 L541.5,651.78 L542.0,651.78 L542.5,651.78 L543.0,651.79 L543.5,651.79 L544.0,651.80 L544.5,651.80 L545.0,651.80 L545.5,651.81 L546.0,651.81 L546.5,651.82 L547.0,651.82 L547.5,651.83 L548.0,651.83 L548.5,651.83 L549.0,651.84 L549.5,651.84 L550.0,651.85 L550.5,651.85 L551.0,651.85 L551.5,651.86 L552.0,651.86 L552.5,651.87 L553.0,651.87 L553.5,651.87 L554.0,651.88 L554.5,651.88 L555.0,651.89 L555.5,651.89 L556.0,651.89 L556.5,651.90 L557.0,651.90 L557.5,651.91 L558.0,651.91 L558.5,651.92 L559.0,651.92 L559.5,651.92 L560.0,651.93 L560.5,651.93 L561.0,651.94 L561.5,651.94 L562.0,651.94 L562.5,651.95 L563.0,651.95 L563.5,651.96 L564.0,651.96 L564.5,651.96 L565.0,651.97 L565.5,651.97 L566.0,651.98 L566.5,651.98 L567.0,651.98 L567.5,651.99 L568.0,651.99 L568.5,652.00 L569.0,652.00 L569.5,652.01 L570.0,652.01 L570.5,652.01 L571.0,652.02 L571.5,652.02 L572.0,652.03 L572.5,652.03 L573.0,652.03 L573.5,652.04 L574.0,652.04 L574.5,652.05 L575.0,652.05 L575.5,652.05 L576.0,652.06 L576.5,652.06 L577.0,652.07 L577.5,652.07 L578.0,652.07 L578.5,652.08 L579.0,652.08 L579.5,652.09 L580.0,652.09 L580.5,652.10 L581.0,652.10 L581.5,652.10 L582.0,652.11 L582.5,652.11 L583.0,652.12 L583.5,652.12 L584.0,652.12 L584.5,652.13 L585.0,652.13 L585.5,652.14 L586.0,652.14 L586.5,652.14 L587.0,652.15 L587.5,652.15 L588.0,652.16 L588.5,652.16 L589.0,652.16 L589.5,652.17 L590.0,652.17 L590.5,652.18 L591.0,652.18 L591.5,652.19 L592.0,652.19 L592.5,652.19 L593.0,652.20 L593.5,652.20 L594.0,652.21 L594.5,652.21 L595.0,652.21 L595.5,652.22 L596.0,652.22 L596.5,652.23 L597.0,652.23 L597.5,652.23 L598.0,652.24 L598.5,652.24 L599.0,652.25 L599.5,652.25 L600.0,652.25 L600.5,652.26 L601.0,652.26 L601.5,652.27 L602.0,652.27 L602.5,652.28 L603.0,652.28 L603.5,652.28 L604.0,652.29 L604.5,652.29 L605.0,652.30 L605.5,652.30 L606.0,652.30 L606.5,652.31 L607.0,652.31 L607.5,652.32 L608.0,652.32 L608.5,652.32 L609.0,652.33 L609.5,652.33 L610.0,652.34 L610.5,652.34 L611.0,652.34 L611.5,652.35 L612.0,652.35 L612.5,652.36 L613.0,652.36 L613.5,652.37 L614.0,652.37 L614.5,652.37 L615.0,652.38 L615.5,652.38 L616.0,652.39 L616.5,652.39 L617.0,652.39 L617.5,652.40 L618.0,652.40 L618.5,652.41 L619.0,652.41 L619.5,652.41 L620.0,652.42 L620.5,652.42 L621.0,652.43 L621.5,652.43 L622.0,652.43 L622.5,652.44 L623.0,652.44 L623.5,652.45 L624.0,652.45 L624.5,652.46 L625.0,652.46 L625.5,652.46 L626.0,652.47 L626.5,652.47 L627.0,652.48 L627.5,652.48 L628.0,652.48 L628.5,652.49 L629.0,652.49 L629.5,652.50 L630.0,652.50 L630.5,652.51 L631.0,652.52 L631.5,652.53 L632.0,652.53 L632.5,652.54 L633.0,652.55 L633.5,652.56 L634.0,652.57 L634.5,652.58 L635.0,652.58 L635.5,652.59 L636.0,652.60 L636.5,652.61 L637.0,652.62 L637.5,652.63 L638.0,652.63 L638.5,652.64 L639.0,652.65 L639.5,652.66 L640.0,652.67 L640.5,652.68 L641.0,652.68 L641.5,652.69 L642.0,652.70 L642.5,652.71 L643.0,652.72 L643.5,652.73 L644.0,652.74 L644.5,652.74 L645.0,652.75 L645.5,652.76 L646.0,652.77 L646.5,652.78 L647.0,652.79 L647.5,652.79 L648.0,652.80 L648.5,652.81 L649.0,652.82 L649.5,652.83 L650.0,652.84 L650.5,652.84 L651.0,652.85 L651.5,652.86 L652.0,652.87 L652.5,652.88 L653.0,652.89 L653.5,652.89 L654.0,652.90 L654.5,652.91 L655.0,652.92 L655.5,652.93 L656.0,652.94 L656.5,652.94 L657.0,652.95 L657.5,652.96 L658.0,652.97 L658.5,652.98 L659.0,652.99 L659.5,653.00 L660.0,653.00 L660.5,653.01 L661.0,653.02 L661.5,653.03 L662.0,653.04 L662.5,653.05 L663.0,653.05 L663.5,653.06 L664.0,653.07 L664.5,653.08 L665.0,653.09 L665.5,653.10 L666.0,653.10 L666.5,653.11 L667.0,653.12 L667.5,653.13 L668.0,653.14 L668.5,653.15 L669.0,653.15 L669.5,653.16 L670.0,653.17 L670.5,653.18 L671.0,653.19 L671.5,653.20 L672.0,653.21 L672.5,653.21 L673.0,653.22 L673.5,653.23 L674.0,653.24 L674.5,653.25 L675.0,653.26 L675.5,653.26 L676.0,653.27 L676.5,653.28 L677.0,653.29 L677.5,653.30 L678.0,653.31 L678.5,653.31 L679.0,653.32 L679.5,653.33 L680.0,653.34 L680.5,653.35 L681.0,653.36 L681.5,653.36 L682.0,653.37 L682.5,653.38 L683.0,653.39 L683.5,653.40" stroke="#c79ad6" stroke-width="3.6"/>
<path d="M118.2,630.80 L119.2,630.82 L120.2,630.84 L121.2,630.86 L122.2,630.89 L123.2,630.91 L124.2,630.93 L125.2,630.95 L126.2,630.97 L127.2,630.99 L128.2,631.01 L129.2,631.04 L130.2,631.06 L131.2,631.08 L132.2,631.10 L133.2,631.12 L134.2,631.14 L135.2,631.16 L136.2,631.19 L137.2,631.21 L138.2,631.23 L139.2,631.25 L140.2,631.27 L141.2,631.29 L142.2,631.32 L143.2,631.34 L144.2,631.36 L145.2,631.38 L146.2,631.40 L147.2,631.42 L148.2,631.44 L149.2,631.47 L150.2,631.49 L151.2,631.51 L152.2,631.53 L153.2,631.55 L154.2,631.57 L155.2,631.59 L156.2,631.62 L157.2,631.64 L158.2,631.66 L159.2,631.68 L160.2,631.70 L161.2,631.72 L162.2,631.74 L163.2,631.76 L164.2,631.78 L165.2,631.79 L166.2,631.81 L167.2,631.82 L168.2,631.83 L169.2,631.84 L170.2,631.85 L171.2,631.86 L172.2,631.87 L173.2,631.87 L174.2,631.88 L175.2,631.89 L176.2,631.90 L177.2,631.91 L178.2,631.92 L179.2,631.93 L180.2,631.94 L181.2,631.95 L182.2,631.95 L183.2,631.96 L184.2,631.97 L185.2,631.98 L186.2,631.99 L187.2,632.00 L188.2,632.01 L189.2,632.02 L190.2,632.02 L191.2,632.03 L192.2,632.04 L193.2,632.05 L194.2,632.06 L195.2,632.07 L196.2,632.08 L197.2,632.09 L198.2,632.10 L199.2,632.10 L200.2,632.11 L201.2,632.12 L202.2,632.13 L203.2,632.14 L204.2,632.15 L205.2,632.16 L206.2,632.17 L207.2,632.17 L208.2,632.18 L209.2,632.19 L210.2,632.20 L211.2,632.20 L212.2,632.21 L213.2,632.21 L214.2,632.21 L215.2,632.22 L216.2,632.22 L217.2,632.22 L218.2,632.23 L219.2,632.23 L220.2,632.23 L221.2,632.24 L222.2,632.24 L223.2,632.24 L224.2,632.25 L225.2,632.25 L226.2,632.25 L227.2,632.26 L228.2,632.26 L229.2,632.26 L230.2,632.27 L231.2,632.27 L232.2,632.27 L233.2,632.28 L234.2,632.28 L235.2,632.28 L236.2,632.29 L237.2,632.29 L238.2,632.29 L239.2,632.30 L240.2,632.30 L241.2,632.30 L242.2,632.31 L243.2,632.31 L244.2,632.31 L245.2,632.32 L246.2,632.32 L247.2,632.32 L248.2,632.33 L249.2,632.33 L250.2,632.33 L251.2,632.34 L252.2,632.34 L253.2,632.34 L254.2,632.35 L255.2,632.35 L256.2,632.35 L257.2,632.36 L258.2,632.36 L259.2,632.36 L260.2,632.37 L261.2,632.37 L262.2,632.37 L263.2,632.38 L264.2,632.38 L265.2,632.38 L266.2,632.39 L267.2,632.39 L268.2,632.39 L269.2,632.40 L270.2,632.40 L271.2,632.40 L272.2,632.41 L273.2,632.41 L274.2,632.41 L275.2,632.42 L276.2,632.42 L277.2,632.42 L278.2,632.43 L279.2,632.43 L280.2,632.43 L281.2,632.44 L282.2,632.44 L283.2,632.44 L284.2,632.45 L285.2,632.45 L286.2,632.45 L287.2,632.46 L288.2,632.46 L289.2,632.46 L290.2,632.47 L291.2,632.47 L292.2,632.47 L293.2,632.48 L294.2,632.48 L295.2,632.48 L296.2,632.49 L297.2,632.49 L298.2,632.49 L299.2,632.50 L300.2,632.50 L301.2,632.50 L302.2,632.50 L303.2,632.50 L304.2,632.50 L305.2,632.50 L306.2,632.50 L307.2,632.50 L308.2,632.50 L309.2,632.50 L310.2,632.50 L311.2,632.50 L312.2,632.50 L313.2,632.50 L314.2,632.50 L315.2,632.50 L316.2,632.50 L317.2,632.50 L318.2,632.50 L319.2,632.50 L320.2,632.50 L321.2,632.50 L322.2,632.50 L323.2,632.50 L324.2,632.50 L325.2,632.50 L326.2,632.50 L327.2,632.49 L328.2,632.48 L329.2,632.46 L330.2,632.42 L331.2,632.38 L332.2,632.33 L333.2,632.27 L334.2,632.21 L335.2,632.14 L336.2,632.08 L337.2,632.01 L338.2,631.94 L339.2,631.87 L340.2,631.80 L341.2,631.74 L342.2,631.67 L343.2,631.60 L344.2,631.53 L345.2,631.46 L346.2,631.38 L347.2,631.29 L348.2,631.19 L349.2,631.05 L350.2,630.88 L351.2,630.66 L352.2,630.40 L353.2,630.10 L354.2,629.78 L355.2,629.45 L356.2,629.10 L357.2,628.75 L358.2,628.40 L359.2,628.05 L360.2,627.70 L361.2,627.35 L362.2,626.99 L363.2,626.63 L364.2,626.27 L365.2,625.90 L366.2,625.53 L367.2,625.16 L368.2,624.78 L369.2,624.40 L370.2,624.02 L371.2,623.64 L372.2,623.26 L373.2,622.88 L374.2,622.50 L375.2,622.12 L376.2,621.74 L377.2,621.36 L378.2,620.98 L379.2,620.60 L380.2,620.21 L381.2,619.82 L382.2,619.42 L383.2,619.02 L384.2,618.61 L385.2,618.19 L386.2,617.77 L387.2,617.35 L388.2,616.93 L389.2,616.51 L390.2,616.09 L391.2,615.67 L392.2,615.25 L393.2,614.83 L394.2,614.40 L395.2,613.98 L396.2,613.54 L397.2,613.10 L398.2,612.64 L399.2,612.16 L400.2,611.67 L401.2,611.16 L402.2,610.65 L403.2,610.13 L404.2,609.60 L405.2,609.08 L406.2,608.55 L407.2,608.03 L408.2,607.50 L409.2,606.98 L410.2,606.45 L411.2,605.93 L412.2,605.40 L413.2,604.87 L414.2,604.35 L415.2,603.82 L416.2,603.28 L417.2,602.74 L418.2,602.18 L419.2,601.60 L420.2,600.98 L421.2,600.34 L422.2,599.67 L423.2,598.98 L424.2,598.27 L425.2,597.56 L426.2,596.84 L427.2,596.12 L428.2,595.38 L429.2,594.64 L430.2,593.87 L431.2,593.08 L432.2,592.26 L433.2,591.42 L434.2,590.56 L435.2,589.69 L436.2,588.82 L437.2,587.94 L438.2,587.07 L439.2,586.20 L440.2,585.33 L441.2,584.49 L442.2,583.65 L443.2,582.83 L444.2,582.03 L445.2,581.24 L446.2,580.45 L447.2,579.67 L448.2,578.88 L449.2,578.11 L450.2,577.33 L451.2,576.56 L452.2,575.80 L453.2,575.06 L454.2,574.33 L455.2,573.63 L456.2,572.94 L457.2,572.27 L458.2,571.61 L459.2,570.95 L460.2,570.30 L461.2,569.65 L462.2,569.00 L463.2,568.36 L464.2,567.72 L465.2,567.08 L466.2,566.46 L467.2,565.86 L468.2,565.28 L469.2,564.73 L470.2,564.19 L471.2,563.68 L472.2,563.17 L473.2,562.67 L474.2,562.17 L475.2,561.67 L476.2,561.18 L477.2,560.68 L478.2,560.18 L479.2,559.69 L480.2,559.19 L481.2,558.70 L482.2,558.22 L483.2,557.75 L484.2,557.30 L485.2,556.87 L486.2,556.45 L487.2,556.05 L488.2,555.66 L489.2,555.27 L490.2,554.89 L491.2,554.50 L492.2,554.12 L493.2,553.74 L494.2,553.36 L495.2,552.97 L496.2,552.59 L497.2,552.21 L498.2,551.83 L499.2,551.46 L500.2,551.10 L501.2,550.75 L502.2,550.41 L503.2,550.09 L504.2,549.79 L505.2,549.51 L506.2,549.23 L507.2,548.95 L508.2,548.68 L509.2,548.41 L510.2,548.14 L511.2,547.87 L512.2,547.60 L513.2,547.33 L514.2,547.07 L515.2,546.80 L516.2,546.53 L517.2,546.28 L518.2,546.03 L519.2,545.80 L520.2,545.58 L521.2,545.39 L522.2,545.22 L523.2,545.06 L524.2,544.90 L525.2,544.76 L526.2,544.61 L527.2,544.47 L528.2,544.32 L529.2,544.18 L530.2,544.03 L531.2,543.89 L532.2,543.75 L533.2,543.61 L534.2,543.47 L535.2,543.33 L536.2,543.21 L537.2,543.09 L538.2,542.99 L539.2,542.90 L540.2,542.81 L541.2,542.73 L542.2,542.66 L543.2,542.59 L544.2,542.52 L545.2,542.45 L546.2,542.39 L547.2,542.34 L548.2,542.31 L549.2,542.31 L550.2,542.35 L551.2,542.43 L552.2,542.54 L553.2,542.67 L554.2,542.83 L555.2,543.00 L556.2,543.19 L557.2,543.40 L558.2,543.66 L559.2,543.98 L560.2,544.37 L561.2,544.84 L562.2,545.37 L563.2,545.96 L564.2,546.58 L565.2,547.22 L566.2,547.87 L567.2,548.53 L568.2,549.19 L569.2,549.84 L570.2,550.50 L571.2,551.17 L572.2,551.83 L573.2,552.51 L574.2,553.19 L575.2,553.87 L576.2,554.56 L577.2,555.25 L578.2,555.95 L579.2,556.65 L580.2,557.35 L581.2,558.04 L582.2,558.74 L583.2,559.44 L584.2,560.14 L585.2,560.84 L586.2,561.53 L587.2,562.23 L588.2,562.93 L589.2,563.63 L590.2,564.33 L591.2,565.03 L592.2,565.73 L593.2,566.43 L594.2,567.13 L595.2,567.83 L596.2,568.53 L597.2,569.23 L598.2,569.94 L599.2,570.64 L600.2,571.34 L601.2,572.05 L602.2,572.75 L603.2,573.45 L604.2,574.16 L605.2,574.86 L606.2,575.56 L607.2,576.26 L608.2,576.96 L609.2,577.65 L610.2,578.33 L611.2,579.00 L612.2,579.66 L613.2,580.29 L614.2,580.91 L615.2,581.53 L616.2,582.13 L617.2,582.73 L618.2,583.33 L619.2,583.93 L620.2,584.53 L621.2,585.13 L622.2,585.73 L623.2,586.33 L624.2,586.93 L625.2,587.53 L626.2,588.13 L627.2,588.72 L628.2,589.32 L629.2,589.92 L630.2,590.52 L631.2,591.12 L632.2,591.72 L633.2,592.32 L634.2,592.92 L635.2,593.52 L636.2,594.11 L637.2,594.71 L638.2,595.31 L639.2,595.91 L640.2,596.51 L641.2,597.11 L642.2,597.71 L643.2,598.31 L644.2,598.91 L645.2,599.51 L646.2,600.11 L647.2,600.71 L648.2,601.31 L649.2,601.92 L650.2,602.53 L651.2,603.14 L652.2,603.76 L653.2,604.39 L654.2,605.01 L655.2,605.64 L656.2,606.26 L657.2,606.89 L658.2,607.52 L659.2,608.15 L660.2,608.78 L661.2,609.42 L662.2,610.06 L663.2,610.73 L664.2,611.43 L665.2,612.18 L666.2,612.97 L667.2,613.81 L668.2,614.69 L669.2,615.60 L670.2,616.53 L671.2,617.46 L672.2,618.40 L673.2,619.34 L674.2,620.28 L675.2,621.22 L676.2,622.16 L677.2,623.10 L678.2,624.04 L679.2,624.98 L680.2,625.92 L681.2,626.86 L682.2,627.80 L683.2,628.74 L684.2,629.68 L685.2,630.62 L685.5,630.86" stroke="#575757" stroke-width="3.5"/>
<path d="M117.5,647.30 L118.0,647.37 L118.5,647.44 L119.0,647.50 L119.5,647.57 L120.0,647.64 L120.5,647.71 L121.0,647.77 L121.5,647.84 L122.0,647.91 L122.5,647.98 L123.0,648.05 L123.5,648.11 L124.0,648.18 L124.5,648.25 L125.0,648.32 L125.5,648.39 L126.0,648.45 L126.5,648.52 L127.0,648.59 L127.5,648.66 L128.0,648.72 L128.5,648.79 L129.0,648.86 L129.5,648.93 L130.0,649.00 L130.5,649.06 L131.0,649.13 L131.5,649.20 L132.0,649.27 L132.5,649.34 L133.0,649.40 L133.5,649.47 L134.0,649.54 L134.5,649.61 L135.0,649.67 L135.5,649.73 L136.0,649.78 L136.5,649.82 L137.0,649.83 L137.5,649.82 L138.0,649.77 L138.5,649.70 L139.0,649.61 L139.5,649.50 L140.0,649.39 L140.5,649.28 L141.0,649.16 L141.5,649.04 L142.0,648.93 L142.5,648.81 L143.0,648.70 L143.5,648.58 L144.0,648.46 L144.5,648.35 L145.0,648.23 L145.5,648.11 L146.0,648.00 L146.5,647.88 L147.0,647.76 L147.5,647.65 L148.0,647.53 L148.5,647.41 L149.0,647.30 L149.5,647.18 L150.0,647.06 L150.5,646.95 L151.0,646.83 L151.5,646.71 L152.0,646.60 L152.5,646.48 L153.0,646.37 L153.5,646.25 L154.0,646.13 L154.5,646.02 L155.0,645.90 L155.5,645.78 L156.0,645.67 L156.5,645.55 L157.0,645.44 L157.5,645.33 L158.0,645.23 L158.5,645.14 L159.0,645.04 L159.5,644.96 L160.0,644.87 L160.5,644.79 L161.0,644.70 L161.5,644.62 L162.0,644.54 L162.5,644.45 L163.0,644.37 L163.5,644.29 L164.0,644.20 L164.5,644.12 L165.0,644.04 L165.5,643.96 L166.0,643.87 L166.5,643.79 L167.0,643.71 L167.5,643.62 L168.0,643.54 L168.5,643.46 L169.0,643.38 L169.5,643.29 L170.0,643.21 L170.5,643.13 L171.0,643.04 L171.5,642.96 L172.0,642.88 L172.5,642.80 L173.0,642.71 L173.5,642.63 L174.0,642.55 L174.5,642.46 L175.0,642.38 L175.5,642.30 L176.0,642.22 L176.5,642.14 L177.0,642.08 L177.5,642.03 L178.0,642.01 L178.5,642.02 L179.0,642.07 L179.5,642.16 L180.0,642.28 L180.5,642.41 L181.0,642.55 L181.5,642.70 L182.0,642.85 L182.5,643.00 L183.0,643.15 L183.5,643.30 L184.0,643.45 L184.5,643.60 L185.0,643.75 L185.5,643.89 L186.0,644.04 L186.5,644.19 L187.0,644.34 L187.5,644.49 L188.0,644.64 L188.5,644.79 L189.0,644.94 L189.5,645.09 L190.0,645.24 L190.5,645.39 L191.0,645.54 L191.5,645.69 L192.0,645.83 L192.5,645.97 L193.0,646.12 L193.5,646.26 L194.0,646.39 L194.5,646.53 L195.0,646.67 L195.5,646.81 L196.0,646.94 L196.5,647.08 L197.0,647.22 L197.5,647.36 L198.0,647.50 L198.5,647.63 L199.0,647.77 L199.5,647.91 L200.0,648.04 L200.5,648.18 L201.0,648.32 L201.5,648.46 L202.0,648.60 L202.5,648.73 L203.0,648.87 L203.5,649.01 L204.0,649.14 L204.5,649.28 L205.0,649.42 L205.5,649.55 L206.0,649.69 L206.5,649.81 L207.0,649.91 L207.5,649.99 L208.0,650.03 L208.5,650.02 L209.0,649.97 L209.5,649.88 L210.0,649.77 L210.5,649.64 L211.0,649.50 L211.5,649.36 L212.0,649.22 L212.5,649.08 L213.0,648.93 L213.5,648.79 L214.0,648.65 L214.5,648.51 L215.0,648.37 L215.5,648.22 L216.0,648.08 L216.5,647.94 L217.0,647.80 L217.5,647.65 L218.0,647.51 L218.5,647.37 L219.0,647.24 L219.5,647.11 L220.0,646.98 L220.5,646.87 L221.0,646.77 L221.5,646.69 L222.0,646.61 L222.5,646.54 L223.0,646.47 L223.5,646.40 L224.0,646.34 L224.5,646.27 L225.0,646.20 L225.5,646.14 L226.0,646.07 L226.5,646.01 L227.0,645.94 L227.5,645.87 L228.0,645.81 L228.5,645.74 L229.0,645.67 L229.5,645.61 L230.0,645.54 L230.5,645.48 L231.0,645.41 L231.5,645.34 L232.0,645.28 L232.5,645.21 L233.0,645.15 L233.5,645.08 L234.0,645.02 L234.5,644.97 L235.0,644.94 L235.5,644.92 L236.0,644.91 L236.5,644.93 L237.0,644.96 L237.5,645.00 L238.0,645.05 L238.5,645.10 L239.0,645.15 L239.5,645.21 L240.0,645.26 L240.5,645.31 L241.0,645.36 L241.5,645.41 L242.0,645.47 L242.5,645.52 L243.0,645.57 L243.5,645.62 L244.0,645.67 L244.5,645.73 L245.0,645.78 L245.5,645.83 L246.0,645.88 L246.5,645.94 L247.0,645.99 L247.5,646.04 L248.0,646.09 L248.5,646.14 L249.0,646.20 L249.5,646.25 L250.0,646.30 L250.5,646.35 L251.0,646.40 L251.5,646.46 L252.0,646.51 L252.5,646.56 L253.0,646.62 L253.5,646.67 L254.0,646.74 L254.5,646.81 L255.0,646.88 L255.5,646.97 L256.0,647.07 L256.5,647.17 L257.0,647.27 L257.5,647.38 L258.0,647.48 L258.5,647.59 L259.0,647.70 L259.5,647.80 L260.0,647.91 L260.5,648.02 L261.0,648.12 L261.5,648.23 L262.0,648.34 L262.5,648.44 L263.0,648.55 L263.5,648.66 L264.0,648.76 L264.5,648.87 L265.0,648.98 L265.5,649.08 L266.0,649.19 L266.5,649.30 L267.0,649.40 L267.5,649.51 L268.0,649.62 L268.5,649.72 L269.0,649.83 L269.5,649.93 L270.0,650.03 L270.5,650.13 L271.0,650.22 L271.5,650.30 L272.0,650.37 L272.5,650.44 L273.0,650.50 L273.5,650.56 L274.0,650.61 L274.5,650.67 L275.0,650.73 L275.5,650.78 L276.0,650.84 L276.5,650.90 L277.0,650.95 L277.5,651.01 L278.0,651.06 L278.5,651.12 L279.0,651.18 L279.5,651.23 L280.0,651.29 L280.5,651.34 L281.0,651.40 L281.5,651.46 L282.0,651.51 L282.5,651.57 L283.0,651.63 L283.5,651.68 L284.0,651.74 L284.5,651.79 L285.0,651.85 L285.5,651.91 L286.0,651.96 L286.5,652.02 L287.0,652.07 L287.5,652.13 L288.0,652.18 L288.5,652.23 L289.0,652.28 L289.5,652.32 L290.0,652.36 L290.5,652.39 L291.0,652.43 L291.5,652.46 L292.0,652.49 L292.5,652.52 L293.0,652.55 L293.5,652.59 L294.0,652.62 L294.5,652.65 L295.0,652.68 L295.5,652.71 L296.0,652.75 L296.5,652.78 L297.0,652.81 L297.5,652.84 L298.0,652.87 L298.5,652.90 L299.0,652.92 L299.5,652.94 L300.0,652.95 L300.5,652.95 L301.0,652.94 L301.5,652.93 L302.0,652.91 L302.5,652.90 L303.0,652.87 L303.5,652.85 L304.0,652.83 L304.5,652.81 L305.0,652.79 L305.5,652.77 L306.0,652.75 L306.5,652.73 L307.0,652.71 L307.5,652.69 L308.0,652.67 L308.5,652.65 L309.0,652.62 L309.5,652.60 L310.0,652.58 L310.5,652.55 L311.0,652.52 L311.5,652.48 L312.0,652.42 L312.5,652.36 L313.0,652.28 L313.5,652.19 L314.0,652.10 L314.5,652.00 L315.0,651.90 L315.5,651.80 L316.0,651.70 L316.5,651.60 L317.0,651.50 L317.5,651.40 L318.0,651.30 L318.5,651.20 L319.0,651.10 L319.5,651.00 L320.0,650.90 L320.5,650.80 L321.0,650.70 L321.5,650.60 L322.0,650.50 L322.5,650.40 L323.0,650.30 L323.5,650.20 L324.0,650.10 L324.5,650.00 L325.0,649.90 L325.5,649.80 L326.0,649.70 L326.5,649.60 L327.0,649.50 L327.5,649.40 L328.0,649.30 L328.5,649.20 L329.0,649.11 L329.5,649.01 L330.0,648.92 L330.5,648.84 L331.0,648.75 L331.5,648.67 L332.0,648.59 L332.5,648.52 L333.0,648.44 L333.5,648.36 L334.0,648.29 L334.5,648.21 L335.0,648.13 L335.5,648.06 L336.0,647.98 L336.5,647.90 L337.0,647.83 L337.5,647.75 L338.0,647.67 L338.5,647.60 L339.0,647.52 L339.5,647.44 L340.0,647.37 L340.5,647.29 L341.0,647.21 L341.5,647.14 L342.0,647.06 L342.5,646.99 L343.0,646.92 L343.5,646.85 L344.0,646.79 L344.5,646.73 L345.0,646.68 L345.5,646.63 L346.0,646.58 L346.5,646.53 L347.0,646.49 L347.5,646.44 L348.0,646.39 L348.5,646.34 L349.0,646.30 L349.5,646.25 L350.0,646.20 L350.5,646.15 L351.0,646.11 L351.5,646.06 L352.0,646.01 L352.5,645.96 L353.0,645.92 L353.5,645.87 L354.0,645.82 L354.5,645.77 L355.0,645.72 L355.5,645.66 L356.0,645.59 L356.5,645.50 L357.0,645.37 L357.5,645.20 L358.0,644.98 L358.5,644.72 L359.0,644.44 L359.5,644.13 L360.0,643.82 L360.5,643.50 L361.0,643.17 L361.5,642.85 L362.0,642.53 L362.5,642.21 L363.0,641.88 L363.5,641.56 L364.0,641.24 L364.5,640.91 L365.0,640.57 L365.5,640.21 L366.0,639.81 L366.5,639.35 L367.0,638.81 L367.5,638.19 L368.0,637.49 L368.5,636.73 L369.0,635.93 L369.5,635.12 L370.0,634.29 L370.5,633.45 L371.0,632.62 L371.5,631.78 L372.0,630.94 L372.5,630.10 L373.0,629.24 L373.5,628.34 L374.0,627.37 L374.5,626.29 L375.0,625.04 L375.5,623.60 L376.0,621.98 L376.5,620.21 L377.0,618.36 L377.5,616.48 L378.0,614.65 L378.5,612.94 L379.0,611.43 L379.5,610.16 L380.0,609.12 L380.5,608.30 L381.0,607.63 L381.5,607.05 L382.0,606.52 L382.5,606.02 L383.0,605.55 L383.5,605.12 L384.0,604.75 L384.5,604.47 L385.0,604.31 L385.5,604.25 L386.0,604.30 L386.5,604.41 L387.0,604.56 L387.5,604.74 L388.0,604.95 L388.5,605.18 L389.0,605.46 L389.5,605.82 L390.0,606.30 L390.5,606.92 L391.0,607.69 L391.5,608.59 L392.0,609.58 L392.5,610.65 L393.0,611.78 L393.5,612.98 L394.0,614.29 L394.5,615.71 L395.0,617.25 L395.5,618.90 L396.0,620.62 L396.5,622.38 L397.0,624.15 L397.5,625.89 L398.0,627.56 L398.5,629.14 L399.0,630.63 L399.5,632.03 L400.0,633.37 L400.5,634.65 L401.0,635.91 L401.5,637.15 L402.0,638.36 L402.5,639.51 L403.0,640.57 L403.5,641.49 L404.0,642.21 L404.5,642.73 L405.0,643.06 L405.5,643.25 L406.0,643.34 L406.5,643.38 L407.0,643.39 L407.5,643.40 L408.0,643.40 L408.5,643.40 L409.0,643.40 L409.5,643.40 L410.0,643.40 L410.5,643.40 L411.0,643.40 L411.5,643.40 L412.0,643.40 L412.5,643.40 L413.0,643.40 L413.5,643.39 L414.0,643.38 L414.5,643.36 L415.0,643.33 L415.5,643.29 L416.0,643.24 L416.5,643.18 L417.0,643.12 L417.5,643.05 L418.0,642.99 L418.5,642.92 L419.0,642.86 L419.5,642.79 L420.0,642.72 L420.5,642.66 L421.0,642.59 L421.5,642.53 L422.0,642.46 L422.5,642.39 L423.0,642.33 L423.5,642.26 L424.0,642.19 L424.5,642.13 L425.0,642.06 L425.5,642.00 L426.0,641.93 L426.5,641.86 L427.0,641.80 L427.5,641.73 L428.0,641.67 L428.5,641.61 L429.0,641.55 L429.5,641.50 L430.0,641.46 L430.5,641.44 L431.0,641.42 L431.5,641.41 L432.0,641.40 L432.5,641.40 L433.0,641.40 L433.5,641.40 L434.0,641.40 L434.5,641.40 L435.0,641.40 L435.5,641.40 L436.0,641.40 L436.5,641.40 L437.0,641.40 L437.5,641.40 L438.0,641.40 L438.5,641.41 L439.0,641.42 L439.5,641.45 L440.0,641.50 L440.5,641.58 L441.0,641.69 L441.5,641.82 L442.0,641.98 L442.5,642.15 L443.0,642.33 L443.5,642.52 L444.0,642.70 L444.5,642.89 L445.0,643.08 L445.5,643.26 L446.0,643.45 L446.5,643.64 L447.0,643.82 L447.5,644.01 L448.0,644.20 L448.5,644.38 L449.0,644.57 L449.5,644.75 L450.0,644.92 L450.5,645.09 L451.0,645.23 L451.5,645.36 L452.0,645.46 L452.5,645.54 L453.0,645.60 L453.5,645.65 L454.0,645.70 L454.5,645.74 L455.0,645.78 L455.5,645.82 L456.0,645.86 L456.5,645.90 L457.0,645.94 L457.5,645.98 L458.0,646.02 L458.5,646.05 L459.0,646.09 L459.5,646.13 L460.0,646.17 L460.5,646.21 L461.0,646.25 L461.5,646.29 L462.0,646.33 L462.5,646.37 L463.0,646.41 L463.5,646.45 L464.0,646.49 L464.5,646.53 L465.0,646.57 L465.5,646.61 L466.0,646.65 L466.5,646.68 L467.0,646.72 L467.5,646.75 L468.0,646.77 L468.5,646.79 L469.0,646.81 L469.5,646.82 L470.0,646.83 L470.5,646.83 L471.0,646.84 L471.5,646.85 L472.0,646.86 L472.5,646.86 L473.0,646.87 L473.5,646.88 L474.0,646.88 L474.5,646.89 L475.0,646.90 L475.5,646.90 L476.0,646.91 L476.5,646.92 L477.0,646.92 L477.5,646.93 L478.0,646.94 L478.5,646.94 L479.0,646.95 L479.5,646.96 L480.0,646.96 L480.5,646.97 L481.0,646.98 L481.5,646.98 L482.0,646.99 L482.5,647.00 L483.0,647.00 L483.5,647.01 L484.0,647.02 L484.5,647.02 L485.0,647.03 L485.5,647.04 L486.0,647.04 L486.5,647.05 L487.0,647.06 L487.5,647.06 L488.0,647.07 L488.5,647.08 L489.0,647.08 L489.5,647.09 L490.0,647.10 L490.5,647.10 L491.0,647.11 L491.5,647.12 L492.0,647.12 L492.5,647.13 L493.0,647.14 L493.5,647.14 L494.0,647.15 L494.5,647.16 L495.0,647.16 L495.5,647.17 L496.0,647.18 L496.5,647.18 L497.0,647.19 L497.5,647.20 L498.0,647.20 L498.5,647.21 L499.0,647.22 L499.5,647.22 L500.0,647.23 L500.5,647.24 L501.0,647.24 L501.5,647.25 L502.0,647.26 L502.5,647.26 L503.0,647.27 L503.5,647.28 L504.0,647.29 L504.5,647.29 L505.0,647.30 L505.5,647.31 L506.0,647.31 L506.5,647.32 L507.0,647.33 L507.5,647.33 L508.0,647.34 L508.5,647.35 L509.0,647.35 L509.5,647.36 L510.0,647.37 L510.5,647.37 L511.0,647.38 L511.5,647.39 L512.0,647.39 L512.5,647.40 L513.0,647.41 L513.5,647.41 L514.0,647.42 L514.5,647.43 L515.0,647.43 L515.5,647.44 L516.0,647.45 L516.5,647.45 L517.0,647.46 L517.5,647.47 L518.0,647.47 L518.5,647.48 L519.0,647.49 L519.5,647.50 L520.0,647.51 L520.5,647.52 L521.0,647.54 L521.5,647.56 L522.0,647.57 L522.5,647.59 L523.0,647.61 L523.5,647.63 L524.0,647.65 L524.5,647.66 L525.0,647.68 L525.5,647.70 L526.0,647.72 L526.5,647.74 L527.0,647.76 L527.5,647.77 L528.0,647.79 L528.5,647.81 L529.0,647.83 L529.5,647.85 L530.0,647.87 L530.5,647.88 L531.0,647.90 L531.5,647.92 L532.0,647.94 L532.5,647.96 L533.0,647.98 L533.5,647.99 L534.0,648.01 L534.5,648.03 L535.0,648.05 L535.5,648.07 L536.0,648.09 L536.5,648.10 L537.0,648.12 L537.5,648.14 L538.0,648.16 L538.5,648.18 L539.0,648.20 L539.5,648.21 L540.0,648.23 L540.5,648.25 L541.0,648.27 L541.5,648.29 L542.0,648.31 L542.5,648.32 L543.0,648.34 L543.5,648.36 L544.0,648.38 L544.5,648.40 L545.0,648.41 L545.5,648.43 L546.0,648.45 L546.5,648.47 L547.0,648.49 L547.5,648.51 L548.0,648.52 L548.5,648.54 L549.0,648.56 L549.5,648.58 L550.0,648.60 L550.5,648.62 L551.0,648.63 L551.5,648.65 L552.0,648.67 L552.5,648.69 L553.0,648.71 L553.5,648.73 L554.0,648.74 L554.5,648.76 L555.0,648.78 L555.5,648.80 L556.0,648.82 L556.5,648.84 L557.0,648.85 L557.5,648.87 L558.0,648.89 L558.5,648.91 L559.0,648.93 L559.5,648.95 L560.0,648.96 L560.5,648.98 L561.0,649.00 L561.5,649.02 L562.0,649.04 L562.5,649.06 L563.0,649.07 L563.5,649.09 L564.0,649.11 L564.5,649.13 L565.0,649.15 L565.5,649.17 L566.0,649.18 L566.5,649.20 L567.0,649.22 L567.5,649.24 L568.0,649.26 L568.5,649.27 L569.0,649.29 L569.5,649.31 L570.0,649.33 L570.5,649.35 L571.0,649.37 L571.5,649.38 L572.0,649.40 L572.5,649.42 L573.0,649.44 L573.5,649.46 L574.0,649.48 L574.5,649.49 L575.0,649.51 L575.5,649.53 L576.0,649.55 L576.5,649.57 L577.0,649.59 L577.5,649.60 L578.0,649.62 L578.5,649.64 L579.0,649.66 L579.5,649.68 L580.0,649.70 L580.5,649.71 L581.0,649.73 L581.5,649.75 L582.0,649.77 L582.5,649.79 L583.0,649.81 L583.5,649.82 L584.0,649.84 L584.5,649.86 L585.0,649.88 L585.5,649.90 L586.0,649.92 L586.5,649.93 L587.0,649.95 L587.5,649.97 L588.0,649.99 L588.5,650.01 L589.0,650.03 L589.5,650.04 L590.0,650.06 L590.5,650.08 L591.0,650.10 L591.5,650.12 L592.0,650.13 L592.5,650.15 L593.0,650.17 L593.5,650.19 L594.0,650.21 L594.5,650.23 L595.0,650.24 L595.5,650.26 L596.0,650.28 L596.5,650.30 L597.0,650.32 L597.5,650.34 L598.0,650.35 L598.5,650.37 L599.0,650.39 L599.5,650.41 L600.0,650.43 L600.5,650.45 L601.0,650.46 L601.5,650.48 L602.0,650.50 L602.5,650.52 L603.0,650.54 L603.5,650.56 L604.0,650.57 L604.5,650.59 L605.0,650.61 L605.5,650.63 L606.0,650.65 L606.5,650.67 L607.0,650.68 L607.5,650.70 L608.0,650.72 L608.5,650.74 L609.0,650.76 L609.5,650.78 L610.0,650.79 L610.5,650.81 L611.0,650.83 L611.5,650.85 L612.0,650.87 L612.5,650.89 L613.0,650.90 L613.5,650.92 L614.0,650.94 L614.5,650.96 L615.0,650.98 L615.5,650.99 L616.0,651.01 L616.5,651.03 L617.0,651.05 L617.5,651.07 L618.0,651.09 L618.5,651.10 L619.0,651.12 L619.5,651.14 L620.0,651.16 L620.5,651.18 L621.0,651.20 L621.5,651.21 L622.0,651.23 L622.5,651.25 L623.0,651.27 L623.5,651.29 L624.0,651.31 L624.5,651.32 L625.0,651.34 L625.5,651.36 L626.0,651.38 L626.5,651.40 L627.0,651.41 L627.5,651.43 L628.0,651.45 L628.5,651.46 L629.0,651.46 L629.5,651.46 L630.0,651.46 L630.5,651.45 L631.0,651.43 L631.5,651.41 L632.0,651.39 L632.5,651.38 L633.0,651.36 L633.5,651.34 L634.0,651.32 L634.5,651.30 L635.0,651.28 L635.5,651.26 L636.0,651.24 L636.5,651.22 L637.0,651.20 L637.5,651.18 L638.0,651.16 L638.5,651.14 L639.0,651.12 L639.5,651.10 L640.0,651.08 L640.5,651.07 L641.0,651.05 L641.5,651.03 L642.0,651.01 L642.5,650.99 L643.0,650.97 L643.5,650.95 L644.0,650.93 L644.5,650.91 L645.0,650.89 L645.5,650.87 L646.0,650.85 L646.5,650.83 L647.0,650.81 L647.5,650.79 L648.0,650.77 L648.5,650.76 L649.0,650.74 L649.5,650.72 L650.0,650.70 L650.5,650.68 L651.0,650.66 L651.5,650.64 L652.0,650.62 L652.5,650.60 L653.0,650.58 L653.5,650.56 L654.0,650.54 L654.5,650.52 L655.0,650.50 L655.5,650.48 L656.0,650.46 L656.5,650.44 L657.0,650.43 L657.5,650.41 L658.0,650.39 L658.5,650.37 L659.0,650.35 L659.5,650.33 L660.0,650.31 L660.5,650.29 L661.0,650.27 L661.5,650.25 L662.0,650.23 L662.5,650.21 L663.0,650.19 L663.5,650.17 L664.0,650.15 L664.5,650.13 L665.0,650.11 L665.5,650.10 L666.0,650.08 L666.5,650.06 L667.0,650.04 L667.5,650.02 L668.0,650.00 L668.5,649.98 L669.0,649.96 L669.5,649.94 L670.0,649.92 L670.5,649.90 L671.0,649.88 L671.5,649.86 L672.0,649.84 L672.5,649.82 L673.0,649.80 L673.5,649.79 L674.0,649.77 L674.5,649.75 L675.0,649.73 L675.5,649.71 L676.0,649.69 L676.5,649.67 L677.0,649.65 L677.5,649.63 L678.0,649.61 L678.5,649.59 L679.0,649.57 L679.5,649.55 L680.0,649.53 L680.5,649.51 L681.0,649.49 L681.5,649.47 L682.0,649.46 L682.5,649.44 L683.0,649.42 L683.5,649.40 L684.0,649.38 L684.5,649.36 L685.0,649.34 L685.5,649.32 L686.0,649.30" stroke="#e9666f" stroke-width="3.5"/>
<path d="M117.5,615.80 L118.0,615.79 L118.5,615.77 L119.0,615.76 L119.5,615.74 L120.0,615.73 L120.5,615.71 L121.0,615.70 L121.5,615.68 L122.0,615.67 L122.5,615.65 L123.0,615.64 L123.5,615.62 L124.0,615.61 L124.5,615.59 L125.0,615.58 L125.5,615.56 L126.0,615.55 L126.5,615.53 L127.0,615.52 L127.5,615.50 L128.0,615.49 L128.5,615.47 L129.0,615.46 L129.5,615.44 L130.0,615.43 L130.5,615.41 L131.0,615.40 L131.5,615.38 L132.0,615.37 L132.5,615.35 L133.0,615.34 L133.5,615.32 L134.0,615.31 L134.5,615.29 L135.0,615.28 L135.5,615.26 L136.0,615.25 L136.5,615.23 L137.0,615.22 L137.5,615.20 L138.0,615.19 L138.5,615.17 L139.0,615.16 L139.5,615.15 L140.0,615.13 L140.5,615.12 L141.0,615.10 L141.5,615.09 L142.0,615.07 L142.5,615.06 L143.0,615.04 L143.5,615.03 L144.0,615.01 L144.5,615.00 L145.0,614.98 L145.5,614.97 L146.0,614.95 L146.5,614.94 L147.0,614.92 L147.5,614.91 L148.0,614.89 L148.5,614.88 L149.0,614.86 L149.5,614.85 L150.0,614.83 L150.5,614.81 L151.0,614.80 L151.5,614.78 L152.0,614.76 L152.5,614.74 L153.0,614.72 L153.5,614.70 L154.0,614.68 L154.5,614.66 L155.0,614.64 L155.5,614.62 L156.0,614.60 L156.5,614.58 L157.0,614.56 L157.5,614.54 L158.0,614.52 L158.5,614.50 L159.0,614.48 L159.5,614.46 L160.0,614.44 L160.5,614.42 L161.0,614.40 L161.5,614.38 L162.0,614.36 L162.5,614.34 L163.0,614.32 L163.5,614.30 L164.0,614.28 L164.5,614.26 L165.0,614.24 L165.5,614.22 L166.0,614.20 L166.5,614.18 L167.0,614.16 L167.5,614.14 L168.0,614.12 L168.5,614.10 L169.0,614.08 L169.5,614.06 L170.0,614.04 L170.5,614.02 L171.0,614.00 L171.5,613.98 L172.0,613.96 L172.5,613.94 L173.0,613.92 L173.5,613.90 L174.0,613.88 L174.5,613.86 L175.0,613.84 L175.5,613.82 L176.0,613.80 L176.5,613.78 L177.0,613.76 L177.5,613.74 L178.0,613.72 L178.5,613.70 L179.0,613.69 L179.5,613.67 L180.0,613.65 L180.5,613.64 L181.0,613.62 L181.5,613.60 L182.0,613.59 L182.5,613.57 L183.0,613.55 L183.5,613.54 L184.0,613.52 L184.5,613.50 L185.0,613.49 L185.5,613.47 L186.0,613.46 L186.5,613.44 L187.0,613.42 L187.5,613.41 L188.0,613.39 L188.5,613.37 L189.0,613.36 L189.5,613.34 L190.0,613.33 L190.5,613.31 L191.0,613.29 L191.5,613.28 L192.0,613.26 L192.5,613.24 L193.0,613.23 L193.5,613.21 L194.0,613.20 L194.5,613.18 L195.0,613.16 L195.5,613.15 L196.0,613.13 L196.5,613.11 L197.0,613.10 L197.5,613.08 L198.0,613.06 L198.5,613.04 L199.0,613.02 L199.5,613.00 L200.0,612.98 L200.5,612.95 L201.0,612.92 L201.5,612.89 L202.0,612.86 L202.5,612.83 L203.0,612.79 L203.5,612.76 L204.0,612.73 L204.5,612.69 L205.0,612.66 L205.5,612.62 L206.0,612.59 L206.5,612.56 L207.0,612.52 L207.5,612.49 L208.0,612.45 L208.5,612.42 L209.0,612.39 L209.5,612.35 L210.0,612.32 L210.5,612.28 L211.0,612.25 L211.5,612.21 L212.0,612.18 L212.5,612.15 L213.0,612.11 L213.5,612.08 L214.0,612.04 L214.5,612.01 L215.0,611.98 L215.5,611.94 L216.0,611.91 L216.5,611.87 L217.0,611.84 L217.5,611.80 L218.0,611.77 L218.5,611.73 L219.0,611.70 L219.5,611.66 L220.0,611.62 L220.5,611.58 L221.0,611.53 L221.5,611.49 L222.0,611.44 L222.5,611.39 L223.0,611.34 L223.5,611.29 L224.0,611.24 L224.5,611.19 L225.0,611.14 L225.5,611.09 L226.0,611.04 L226.5,610.99 L227.0,610.94 L227.5,610.89 L228.0,610.84 L228.5,610.78 L229.0,610.73 L229.5,610.68 L230.0,610.63 L230.5,610.58 L231.0,610.53 L231.5,610.48 L232.0,610.43 L232.5,610.38 L233.0,610.33 L233.5,610.27 L234.0,610.22 L234.5,610.17 L235.0,610.12 L235.5,610.07 L236.0,610.02 L236.5,609.97 L237.0,609.92 L237.5,609.87 L238.0,609.82 L238.5,609.76 L239.0,609.71 L239.5,609.66 L240.0,609.61 L240.5,609.56 L241.0,609.50 L241.5,609.45 L242.0,609.39 L242.5,609.33 L243.0,609.28 L243.5,609.22 L244.0,609.16 L244.5,609.10 L245.0,609.04 L245.5,608.98 L246.0,608.93 L246.5,608.87 L247.0,608.81 L247.5,608.75 L248.0,608.69 L248.5,608.63 L249.0,608.58 L249.5,608.52 L250.0,608.46 L250.5,608.40 L251.0,608.34 L251.5,608.28 L252.0,608.22 L252.5,608.17 L253.0,608.11 L253.5,608.05 L254.0,607.99 L254.5,607.93 L255.0,607.87 L255.5,607.81 L256.0,607.76 L256.5,607.70 L257.0,607.64 L257.5,607.58 L258.0,607.52 L258.5,607.46 L259.0,607.40 L259.5,607.34 L260.0,607.28 L260.5,607.22 L261.0,607.16 L261.5,607.09 L262.0,607.02 L262.5,606.95 L263.0,606.88 L263.5,606.81 L264.0,606.74 L264.5,606.66 L265.0,606.59 L265.5,606.51 L266.0,606.44 L266.5,606.36 L267.0,606.29 L267.5,606.21 L268.0,606.13 L268.5,606.06 L269.0,605.98 L269.5,605.91 L270.0,605.83 L270.5,605.76 L271.0,605.68 L271.5,605.61 L272.0,605.53 L272.5,605.46 L273.0,605.38 L273.5,605.31 L274.0,605.23 L274.5,605.15 L275.0,605.08 L275.5,605.00 L276.0,604.93 L276.5,604.85 L277.0,604.77 L277.5,604.70 L278.0,604.62 L278.5,604.53 L279.0,604.45 L279.5,604.36 L280.0,604.26 L280.5,604.16 L281.0,604.06 L281.5,603.96 L282.0,603.85 L282.5,603.74 L283.0,603.63 L283.5,603.52 L284.0,603.41 L284.5,603.30 L285.0,603.19 L285.5,603.08 L286.0,602.97 L286.5,602.86 L287.0,602.75 L287.5,602.64 L288.0,602.53 L288.5,602.42 L289.0,602.31 L289.5,602.20 L290.0,602.10 L290.5,601.99 L291.0,601.88 L291.5,601.77 L292.0,601.66 L292.5,601.55 L293.0,601.44 L293.5,601.33 L294.0,601.22 L294.5,601.11 L295.0,601.00 L295.5,600.89 L296.0,600.78 L296.5,600.67 L297.0,600.55 L297.5,600.44 L298.0,600.32 L298.5,600.19 L299.0,600.06 L299.5,599.91 L300.0,599.75 L300.5,599.57 L301.0,599.38 L301.5,599.18 L302.0,598.97 L302.5,598.75 L303.0,598.52 L303.5,598.30 L304.0,598.07 L304.5,597.84 L305.0,597.61 L305.5,597.39 L306.0,597.16 L306.5,596.93 L307.0,596.70 L307.5,596.47 L308.0,596.24 L308.5,596.01 L309.0,595.79 L309.5,595.56 L310.0,595.33 L310.5,595.10 L311.0,594.87 L311.5,594.63 L312.0,594.40 L312.5,594.15 L313.0,593.90 L313.5,593.64 L314.0,593.37 L314.5,593.08 L315.0,592.78 L315.5,592.47 L316.0,592.16 L316.5,591.83 L317.0,591.51 L317.5,591.18 L318.0,590.85 L318.5,590.51 L319.0,590.18 L319.5,589.85 L320.0,589.52 L320.5,589.19 L321.0,588.85 L321.5,588.52 L322.0,588.18 L322.5,587.84 L323.0,587.49 L323.5,587.13 L324.0,586.75 L324.5,586.36 L325.0,585.96 L325.5,585.54 L326.0,585.11 L326.5,584.67 L327.0,584.22 L327.5,583.77 L328.0,583.31 L328.5,582.85 L329.0,582.39 L329.5,581.92 L330.0,581.45 L330.5,580.97 L331.0,580.49 L331.5,580.00 L332.0,579.51 L332.5,579.02 L333.0,578.52 L333.5,578.03 L334.0,577.53 L334.5,577.04 L335.0,576.54 L335.5,576.04 L336.0,575.55 L336.5,575.05 L337.0,574.56 L337.5,574.06 L338.0,573.56 L338.5,573.07 L339.0,572.57 L339.5,572.07 L340.0,571.57 L340.5,571.05 L341.0,570.53 L341.5,570.00 L342.0,569.45 L342.5,568.88 L343.0,568.29 L343.5,567.69 L344.0,567.07 L344.5,566.44 L345.0,565.81 L345.5,565.17 L346.0,564.52 L346.5,563.88 L347.0,563.24 L347.5,562.59 L348.0,561.95 L348.5,561.30 L349.0,560.65 L349.5,560.01 L350.0,559.36 L350.5,558.72 L351.0,558.07 L351.5,557.43 L352.0,556.78 L352.5,556.14 L353.0,555.50 L353.5,554.86 L354.0,554.21 L354.5,553.58 L355.0,552.94 L355.5,552.31 L356.0,551.67 L356.5,551.04 L357.0,550.41 L357.5,549.78 L358.0,549.15 L358.5,548.53 L359.0,547.90 L359.5,547.28 L360.0,546.67 L360.5,546.07 L361.0,545.49 L361.5,544.93 L362.0,544.39 L362.5,543.89 L363.0,543.41 L363.5,542.95 L364.0,542.52 L364.5,542.10 L365.0,541.69 L365.5,541.30 L366.0,540.93 L366.5,540.58 L367.0,540.27 L367.5,540.01 L368.0,539.80 L368.5,539.66 L369.0,539.57 L369.5,539.54 L370.0,539.55 L370.5,539.60 L371.0,539.67 L371.5,539.77 L372.0,539.87 L372.5,540.00 L373.0,540.15 L373.5,540.33 L374.0,540.55 L374.5,540.81 L375.0,541.11 L375.5,541.45 L376.0,541.83 L376.5,542.24 L377.0,542.68 L377.5,543.13 L378.0,543.59 L378.5,544.08 L379.0,544.58 L379.5,545.10 L380.0,545.64 L380.5,546.19 L381.0,546.76 L381.5,547.34 L382.0,547.93 L382.5,548.52 L383.0,549.11 L383.5,549.70 L384.0,550.28 L384.5,550.86 L385.0,551.42 L385.5,551.98 L386.0,552.52 L386.5,553.05 L387.0,553.57 L387.5,554.08 L388.0,554.59 L388.5,555.10 L389.0,555.60 L389.5,556.10 L390.0,556.60 L390.5,557.10 L391.0,557.60 L391.5,558.11 L392.0,558.61 L392.5,559.12 L393.0,559.64 L393.5,560.16 L394.0,560.70 L394.5,561.24 L395.0,561.79 L395.5,562.35 L396.0,562.92 L396.5,563.50 L397.0,564.07 L397.5,564.65 L398.0,565.23 L398.5,565.81 L399.0,566.38 L399.5,566.96 L400.0,567.52 L400.5,568.08 L401.0,568.62 L401.5,569.15 L402.0,569.66 L402.5,570.16 L403.0,570.64 L403.5,571.12 L404.0,571.59 L404.5,572.05 L405.0,572.51 L405.5,572.97 L406.0,573.42 L406.5,573.87 L407.0,574.30 L407.5,574.72 L408.0,575.11 L408.5,575.47 L409.0,575.79 L409.5,576.08 L410.0,576.34 L410.5,576.57 L411.0,576.78 L411.5,576.97 L412.0,577.15 L412.5,577.33 L413.0,577.50 L413.5,577.67 L414.0,577.85 L414.5,578.02 L415.0,578.19 L415.5,578.36 L416.0,578.53 L416.5,578.70 L417.0,578.87 L417.5,579.04 L418.0,579.21 L418.5,579.38 L419.0,579.55 L419.5,579.71 L420.0,579.87 L420.5,580.03 L421.0,580.19 L421.5,580.34 L422.0,580.50 L422.5,580.65 L423.0,580.80 L423.5,580.95 L424.0,581.10 L424.5,581.25 L425.0,581.40 L425.5,581.55 L426.0,581.70 L426.5,581.85 L427.0,582.00 L427.5,582.15 L428.0,582.30 L428.5,582.45 L429.0,582.60 L429.5,582.75 L430.0,582.90 L430.5,583.05 L431.0,583.20 L431.5,583.35 L432.0,583.50 L432.5,583.65 L433.0,583.80 L433.5,583.95 L434.0,584.10 L434.5,584.25 L435.0,584.40 L435.5,584.55 L436.0,584.70 L436.5,584.85 L437.0,585.00 L437.5,585.15 L438.0,585.29 L438.5,585.44 L439.0,585.59 L439.5,585.74 L440.0,585.89 L440.5,586.04 L441.0,586.19 L441.5,586.34 L442.0,586.49 L442.5,586.63 L443.0,586.77 L443.5,586.91 L444.0,587.04 L444.5,587.16 L445.0,587.27 L445.5,587.37 L446.0,587.46 L446.5,587.55 L447.0,587.63 L447.5,587.70 L448.0,587.78 L448.5,587.85 L449.0,587.93 L449.5,588.00 L450.0,588.07 L450.5,588.15 L451.0,588.22 L451.5,588.29 L452.0,588.37 L452.5,588.44 L453.0,588.51 L453.5,588.58 L454.0,588.66 L454.5,588.73 L455.0,588.80 L455.5,588.87 L456.0,588.93 L456.5,588.99 L457.0,589.04 L457.5,589.07 L458.0,589.08 L458.5,589.07 L459.0,589.04 L459.5,588.99 L460.0,588.92 L460.5,588.84 L461.0,588.75 L461.5,588.65 L462.0,588.55 L462.5,588.45 L463.0,588.34 L463.5,588.22 L464.0,588.10 L464.5,587.96 L465.0,587.81 L465.5,587.65 L466.0,587.48 L466.5,587.29 L467.0,587.09 L467.5,586.88 L468.0,586.66 L468.5,586.45 L469.0,586.23 L469.5,586.01 L470.0,585.79 L470.5,585.57 L471.0,585.35 L471.5,585.13 L472.0,584.91 L472.5,584.70 L473.0,584.48 L473.5,584.26 L474.0,584.04 L474.5,583.82 L475.0,583.60 L475.5,583.39 L476.0,583.18 L476.5,582.97 L477.0,582.77 L477.5,582.58 L478.0,582.39 L478.5,582.21 L479.0,582.04 L479.5,581.87 L480.0,581.71 L480.5,581.55 L481.0,581.39 L481.5,581.23 L482.0,581.07 L482.5,580.91 L483.0,580.75 L483.5,580.59 L484.0,580.43 L484.5,580.27 L485.0,580.12 L485.5,579.96 L486.0,579.80 L486.5,579.64 L487.0,579.48 L487.5,579.32 L488.0,579.16 L488.5,579.00 L489.0,578.84 L489.5,578.69 L490.0,578.53 L490.5,578.37 L491.0,578.22 L491.5,578.07 L492.0,577.92 L492.5,577.78 L493.0,577.65 L493.5,577.52 L494.0,577.39 L494.5,577.27 L495.0,577.15 L495.5,577.03 L496.0,576.91 L496.5,576.80 L497.0,576.68 L497.5,576.56 L498.0,576.45 L498.5,576.33 L499.0,576.22 L499.5,576.10 L500.0,575.98 L500.5,575.87 L501.0,575.75 L501.5,575.64 L502.0,575.52 L502.5,575.41 L503.0,575.29 L503.5,575.17 L504.0,575.06 L504.5,574.94 L505.0,574.83 L505.5,574.72 L506.0,574.62 L506.5,574.52 L507.0,574.42 L507.5,574.34 L508.0,574.27 L508.5,574.21 L509.0,574.16 L509.5,574.12 L510.0,574.09 L510.5,574.05 L511.0,574.03 L511.5,574.00 L512.0,573.97 L512.5,573.94 L513.0,573.92 L513.5,573.89 L514.0,573.86 L514.5,573.84 L515.0,573.81 L515.5,573.78 L516.0,573.76 L516.5,573.73 L517.0,573.70 L517.5,573.68 L518.0,573.65 L518.5,573.62 L519.0,573.60 L519.5,573.57 L520.0,573.54 L520.5,573.52 L521.0,573.49 L521.5,573.46 L522.0,573.44 L522.5,573.41 L523.0,573.38 L523.5,573.35 L524.0,573.33 L524.5,573.30 L525.0,573.27 L525.5,573.24 L526.0,573.21 L526.5,573.18 L527.0,573.14 L527.5,573.11 L528.0,573.07 L528.5,573.03 L529.0,572.99 L529.5,572.96 L530.0,572.92 L530.5,572.88 L531.0,572.84 L531.5,572.80 L532.0,572.76 L532.5,572.72 L533.0,572.68 L533.5,572.64 L534.0,572.60 L534.5,572.56 L535.0,572.52 L535.5,572.48 L536.0,572.44 L536.5,572.41 L537.0,572.37 L537.5,572.33 L538.0,572.29 L538.5,572.25 L539.0,572.21 L539.5,572.17 L540.0,572.13 L540.5,572.09 L541.0,572.05 L541.5,572.01 L542.0,571.98 L542.5,571.94 L543.0,571.90 L543.5,571.87 L544.0,571.84 L544.5,571.81 L545.0,571.79 L545.5,571.76 L546.0,571.74 L546.5,571.72 L547.0,571.71 L547.5,571.69 L548.0,571.67 L548.5,571.65 L549.0,571.64 L549.5,571.62 L550.0,571.60 L550.5,571.59 L551.0,571.57 L551.5,571.55 L552.0,571.53 L552.5,571.52 L553.0,571.50 L553.5,571.48 L554.0,571.47 L554.5,571.45 L555.0,571.43 L555.5,571.42 L556.0,571.40 L556.5,571.38 L557.0,571.37 L557.5,571.35 L558.0,571.33 L558.5,571.31 L559.0,571.30 L559.5,571.28 L560.0,571.26 L560.5,571.25 L561.0,571.23 L561.5,571.21 L562.0,571.20 L562.5,571.18 L563.0,571.17 L563.5,571.16 L564.0,571.15 L564.5,571.15 L565.0,571.15 L565.5,571.15 L566.0,571.16 L566.5,571.17 L567.0,571.18 L567.5,571.20 L568.0,571.22 L568.5,571.24 L569.0,571.25 L569.5,571.27 L570.0,571.29 L570.5,571.31 L571.0,571.33 L571.5,571.34 L572.0,571.36 L572.5,571.38 L573.0,571.40 L573.5,571.42 L574.0,571.44 L574.5,571.45 L575.0,571.47 L575.5,571.49 L576.0,571.51 L576.5,571.53 L577.0,571.54 L577.5,571.56 L578.0,571.58 L578.5,571.60 L579.0,571.62 L579.5,571.64 L580.0,571.65 L580.5,571.67 L581.0,571.69 L581.5,571.71 L582.0,571.74 L582.5,571.77 L583.0,571.80 L583.5,571.84 L584.0,571.89 L584.5,571.95 L585.0,572.02 L585.5,572.10 L586.0,572.18 L586.5,572.26 L587.0,572.35 L587.5,572.44 L588.0,572.53 L588.5,572.63 L589.0,572.72 L589.5,572.81 L590.0,572.90 L590.5,572.99 L591.0,573.09 L591.5,573.18 L592.0,573.27 L592.5,573.37 L593.0,573.47 L593.5,573.58 L594.0,573.69 L594.5,573.82 L595.0,573.95 L595.5,574.10 L596.0,574.26 L596.5,574.43 L597.0,574.61 L597.5,574.79 L598.0,574.97 L598.5,575.16 L599.0,575.35 L599.5,575.54 L600.0,575.73 L600.5,575.91 L601.0,576.10 L601.5,576.29 L602.0,576.48 L602.5,576.67 L603.0,576.86 L603.5,577.05 L604.0,577.24 L604.5,577.42 L605.0,577.61 L605.5,577.80 L606.0,577.99 L606.5,578.18 L607.0,578.37 L607.5,578.56 L608.0,578.75 L608.5,578.94 L609.0,579.13 L609.5,579.32 L610.0,579.51 L610.5,579.70 L611.0,579.90 L611.5,580.09 L612.0,580.29 L612.5,580.49 L613.0,580.68 L613.5,580.88 L614.0,581.08 L614.5,581.28 L615.0,581.47 L615.5,581.67 L616.0,581.87 L616.5,582.06 L617.0,582.26 L617.5,582.46 L618.0,582.66 L618.5,582.85 L619.0,583.05 L619.5,583.25 L620.0,583.45 L620.5,583.64 L621.0,583.84 L621.5,584.04 L622.0,584.24 L622.5,584.43 L623.0,584.63 L623.5,584.83 L624.0,585.03 L624.5,585.23 L625.0,585.43 L625.5,585.63 L626.0,585.83 L626.5,586.03 L627.0,586.23 L627.5,586.43 L628.0,586.64 L628.5,586.84 L629.0,587.04 L629.5,587.24 L630.0,587.45 L630.5,587.65 L631.0,587.85 L631.5,588.05 L632.0,588.26 L632.5,588.46 L633.0,588.66 L633.5,588.86 L634.0,589.07 L634.5,589.27 L635.0,589.47 L635.5,589.67 L636.0,589.88 L636.5,590.08 L637.0,590.28 L637.5,590.48 L638.0,590.68 L638.5,590.89 L639.0,591.09 L639.5,591.29 L640.0,591.49 L640.5,591.70 L641.0,591.90 L641.5,592.10 L642.0,592.30 L642.5,592.51 L643.0,592.71 L643.5,592.91 L644.0,593.11 L644.5,593.31 L645.0,593.52 L645.5,593.72 L646.0,593.92 L646.5,594.12 L647.0,594.32 L647.5,594.52 L648.0,594.71 L648.5,594.91 L649.0,595.11 L649.5,595.31 L650.0,595.51 L650.5,595.71 L651.0,595.91 L651.5,596.11 L652.0,596.31 L652.5,596.51 L653.0,596.70 L653.5,596.90 L654.0,597.10 L654.5,597.30 L655.0,597.50 L655.5,597.70 L656.0,597.90 L656.5,598.10 L657.0,598.30 L657.5,598.50 L658.0,598.70 L658.5,598.89 L659.0,599.09 L659.5,599.29 L660.0,599.49 L660.5,599.69 L661.0,599.89 L661.5,600.09 L662.0,600.29 L662.5,600.49 L663.0,600.69 L663.5,600.89 L664.0,601.10 L664.5,601.31 L665.0,601.53 L665.5,601.76 L666.0,601.99 L666.5,602.24 L667.0,602.49 L667.5,602.75 L668.0,603.01 L668.5,603.28 L669.0,603.55 L669.5,603.83 L670.0,604.10 L670.5,604.37 L671.0,604.65 L671.5,604.92 L672.0,605.19 L672.5,605.47 L673.0,605.74 L673.5,606.02 L674.0,606.29 L674.5,606.56 L675.0,606.84 L675.5,607.11 L676.0,607.39 L676.5,607.66 L677.0,607.94 L677.5,608.22 L678.0,608.51 L678.5,608.80 L679.0,609.11 L679.5,609.42 L680.0,609.75 L680.5,610.09 L681.0,610.44 L681.5,610.79 L682.0,611.15 L682.5,611.52 L683.0,611.89 L683.5,612.25 L684.0,612.62 L684.5,612.99 L685.0,613.36 L685.5,613.73 L686.0,614.10" stroke="#8a5cf0" stroke-width="3.3"/>
</g>
<circle cx="140.7" cy="580.1" r="9.7" fill="#8a5cf0"/>
<circle cx="400.9" cy="506.2" r="10" fill="#c79ad6"/>
<circle cx="474.7" cy="605.2" r="9.9" fill="#575757"/>
<circle cx="441.1" cy="666.9" r="9.9" fill="#e9666f"/>
<g font-family="Liberation Sans, sans-serif" stroke="#111" stroke-width="0.45">
<text transform="translate(67.1,380.8) rotate(-90)" x="0" y="0" font-size="21.5" fill="#111" textLength="118.5" lengthAdjust="spacingAndGlyphs">ГИСТОЛОГИЯ</text>
<text transform="translate(94.3,363.5) rotate(-90)" x="0" y="0" font-size="21.5" fill="#111" textLength="85.5" lengthAdjust="spacingAndGlyphs">ЯИЧНИКА</text>
<text transform="translate(83.7,651.8) rotate(-90)" x="0" y="0" font-size="22.5" fill="#111" textLength="92.1" lengthAdjust="spacingAndGlyphs">ГОРМОНЫ</text>
<text transform="translate(83.7,741.3) rotate(-90)" x="0" y="0" font-size="22.5" fill="#111" textLength="46.0" lengthAdjust="spacingAndGlyphs">ФАЗА</text>
<text x="135.3" y="366.7" font-size="21.0" font-weight="400" font-style="normal" fill="#111" textLength="192.3" lengthAdjust="spacingAndGlyphs" >созревание фолликула</text>
<text x="348.7" y="366.1" font-size="21.0" font-weight="400" font-style="normal" fill="#111" textLength="79.7" lengthAdjust="spacingAndGlyphs" stroke-width="0.5">овуляция</text>
<text x="450.3" y="366.3" font-size="21.0" font-weight="400" font-style="normal" fill="#111" textLength="105.1" lengthAdjust="spacingAndGlyphs" >желтое тело</text>
<text x="577.5" y="366.3" font-size="21.0" font-weight="400" font-style="normal" fill="#111" textLength="98.7" lengthAdjust="spacingAndGlyphs" >деградация</text>
<text x="577.5" y="384.0" font-size="21.0" font-weight="400" font-style="normal" fill="#111" textLength="111.0" lengthAdjust="spacingAndGlyphs" >желтого тела</text>
<text x="53.3" y="416.1" font-size="18.5" font-weight="400" font-style="normal" fill="#111" textLength="39.0" lengthAdjust="spacingAndGlyphs" stroke-width="0.2">37°C</text>
<text x="53.3" y="484.7" font-size="18.5" font-weight="400" font-style="normal" fill="#111" textLength="39.0" lengthAdjust="spacingAndGlyphs" stroke-width="0.2">36°C</text>
<text x="128.5" y="434.8" font-size="22.0" font-weight="400" font-style="normal" fill="#111" textLength="169.4" lengthAdjust="spacingAndGlyphs" >ТЕМПЕРАТУРА ТЕЛА</text>
<text x="155.4" y="586.2" font-size="21.0" font-weight="400" font-style="normal" fill="#111" textLength="87.3" lengthAdjust="spacingAndGlyphs" >эстрадиол</text>
<text x="417.9" y="500.9" font-size="21.0" font-weight="400" font-style="normal" fill="#111" textLength="162.6" lengthAdjust="spacingAndGlyphs" >лютеинизирующий</text>
<text x="417.9" y="522.1" font-size="21.0" font-weight="400" font-style="normal" fill="#111" textLength="162.6" lengthAdjust="spacingAndGlyphs" >гормон (лютропин)</text>
<text x="490.7" y="612.1" font-size="21.0" font-weight="400" font-style="normal" fill="#111" textLength="107.6" lengthAdjust="spacingAndGlyphs" >прогестерон</text>
<text x="457.9" y="678.0" font-size="21.0" font-weight="400" font-style="normal" fill="#111" textLength="228.4" lengthAdjust="spacingAndGlyphs" >фолликулостимулирующий</text>
<text x="457.9" y="700.2" font-size="21.0" font-weight="400" font-style="normal" fill="#111" textLength="189.3" lengthAdjust="spacingAndGlyphs" >гормон (фоллитропин)</text>
<text x="124.4" y="708.4" font-size="21.0" font-weight="400" font-style="italic" fill="#111" textLength="110.0" lengthAdjust="spacingAndGlyphs" >менструация</text>
<text x="144.6" y="731.1" font-size="21.0" font-weight="400" font-style="italic" fill="#111" textLength="175.8" lengthAdjust="spacingAndGlyphs" >фолликулярная фаза</text>
<text x="356.9" y="730.7" font-size="21.0" font-weight="400" font-style="italic" fill="#111" textLength="78.7" lengthAdjust="spacingAndGlyphs" stroke-width="0.45">овуляция</text>
<text x="492.1" y="730.8" font-size="21.0" font-weight="400" font-style="italic" fill="#111" textLength="146.6" lengthAdjust="spacingAndGlyphs" >лютеиновая фаза</text>
<text x="250.3" y="771.7" font-size="22.0" font-weight="400" font-style="normal" fill="#111" textLength="275.0" lengthAdjust="spacingAndGlyphs" >ДНИ МЕНСТРУАЛЬНОГО ЦИКЛА</text>
<text y="804.7" font-size="21.5" fill="#111" text-anchor="middle" transform="translate(118.5,0) scale(0.82,1)">1</text>
<text y="829.6" font-size="21.5" fill="#111" text-anchor="middle" transform="translate(141.0,0) scale(0.82,1)">2</text>
<text y="804.7" font-size="21.5" fill="#111" text-anchor="middle" transform="translate(158.9,0) scale(0.82,1)">3</text>
<text y="829.6" font-size="21.5" fill="#111" text-anchor="middle" transform="translate(181.0,0) scale(0.82,1)">4</text>
<text y="804.7" font-size="21.5" fill="#111" text-anchor="middle" transform="translate(199.3,0) scale(0.82,1)">5</text>
<text y="829.6" font-size="21.5" fill="#111" text-anchor="middle" transform="translate(220.9,0) scale(0.82,1)">6</text>
<text y="804.7" font-size="21.5" fill="#111" text-anchor="middle" transform="translate(239.7,0) scale(0.82,1)">7</text>
<text y="829.6" font-size="21.5" fill="#111" text-anchor="middle" transform="translate(260.9,0) scale(0.82,1)">8</text>
<text y="804.7" font-size="21.5" fill="#111" text-anchor="middle" transform="translate(280.1,0) scale(0.82,1)">9</text>
<text y="829.6" font-size="21.5" fill="#111" text-anchor="middle" transform="translate(300.8,0) scale(0.82,1)">10</text>
<text y="804.7" font-size="21.5" fill="#111" text-anchor="middle" transform="translate(320.5,0) scale(0.82,1)">11</text>
<text y="829.6" font-size="21.5" fill="#111" text-anchor="middle" transform="translate(340.8,0) scale(0.82,1)">12</text>
<text y="804.7" font-size="21.5" fill="#111" text-anchor="middle" transform="translate(360.9,0) scale(0.82,1)">13</text>
<text y="829.6" font-size="21.5" fill="#111" text-anchor="middle" transform="translate(380.8,0) scale(0.82,1)">14</text>
<text y="804.7" font-size="21.5" fill="#111" text-anchor="middle" transform="translate(401.3,0) scale(0.82,1)">15</text>
<text y="829.6" font-size="21.5" fill="#111" text-anchor="middle" transform="translate(420.7,0) scale(0.82,1)">16</text>
<text y="804.7" font-size="21.5" fill="#111" text-anchor="middle" transform="translate(441.7,0) scale(0.82,1)">17</text>
<text y="829.6" font-size="21.5" fill="#111" text-anchor="middle" transform="translate(460.7,0) scale(0.82,1)">18</text>
<text y="804.7" font-size="21.5" fill="#111" text-anchor="middle" transform="translate(482.1,0) scale(0.82,1)">19</text>
<text y="829.6" font-size="21.5" fill="#111" text-anchor="middle" transform="translate(500.6,0) scale(0.82,1)">20</text>
<text y="804.7" font-size="21.5" fill="#111" text-anchor="middle" transform="translate(522.5,0) scale(0.82,1)">21</text>
<text y="829.6" font-size="21.5" fill="#111" text-anchor="middle" transform="translate(540.6,0) scale(0.82,1)">22</text>
<text y="804.7" font-size="21.5" fill="#111" text-anchor="middle" transform="translate(562.9,0) scale(0.82,1)">23</text>
<text y="829.6" font-size="21.5" fill="#111" text-anchor="middle" transform="translate(580.6,0) scale(0.82,1)">24</text>
<text y="804.7" font-size="21.5" fill="#111" text-anchor="middle" transform="translate(603.3,0) scale(0.82,1)">25</text>
<text y="829.6" font-size="21.5" fill="#111" text-anchor="middle" transform="translate(620.5,0) scale(0.82,1)">26</text>
<text y="804.7" font-size="21.5" fill="#111" text-anchor="middle" transform="translate(643.7,0) scale(0.82,1)">27</text>
<text y="829.6" font-size="21.5" fill="#111" text-anchor="middle" transform="translate(660.5,0) scale(0.82,1)">28</text>
</g>
<g font-family="Liberation Sans, sans-serif">
<text x="193.2" y="857.8" font-size="16.3" font-weight="400" font-style="normal" fill="#505050" textLength="475.0" lengthAdjust="spacingAndGlyphs" >* Приводятся средние значения. Продолжительность цикла может отличаться</text>
<text x="202.5" y="873.2" font-size="16.3" font-weight="400" font-style="normal" fill="#505050" textLength="235.0" lengthAdjust="spacingAndGlyphs" >у разных женщин и быть непостоянной</text>
<text x="47.2" y="871.6" font-size="27.0" font-weight="700" font-style="normal" fill="#111" textLength="119.3" lengthAdjust="spacingAndGlyphs" stroke="#111" stroke-width="1.3">sports.ru</text>
</g>
<circle cx="37.7" cy="850.7" r="2.3" fill="#d6245a"/>
<circle cx="37.7" cy="857.5" r="2.3" fill="#f5c400"/>
<circle cx="37.7" cy="864.0" r="2.3" fill="#2aa84a"/>
<circle cx="37.7" cy="870.4" r="2.3" fill="#1ea0e0"/>
<circle cx="37.7" cy="877.0" r="2.3" fill="#8e4a9e"/>
</svg></body></html>
